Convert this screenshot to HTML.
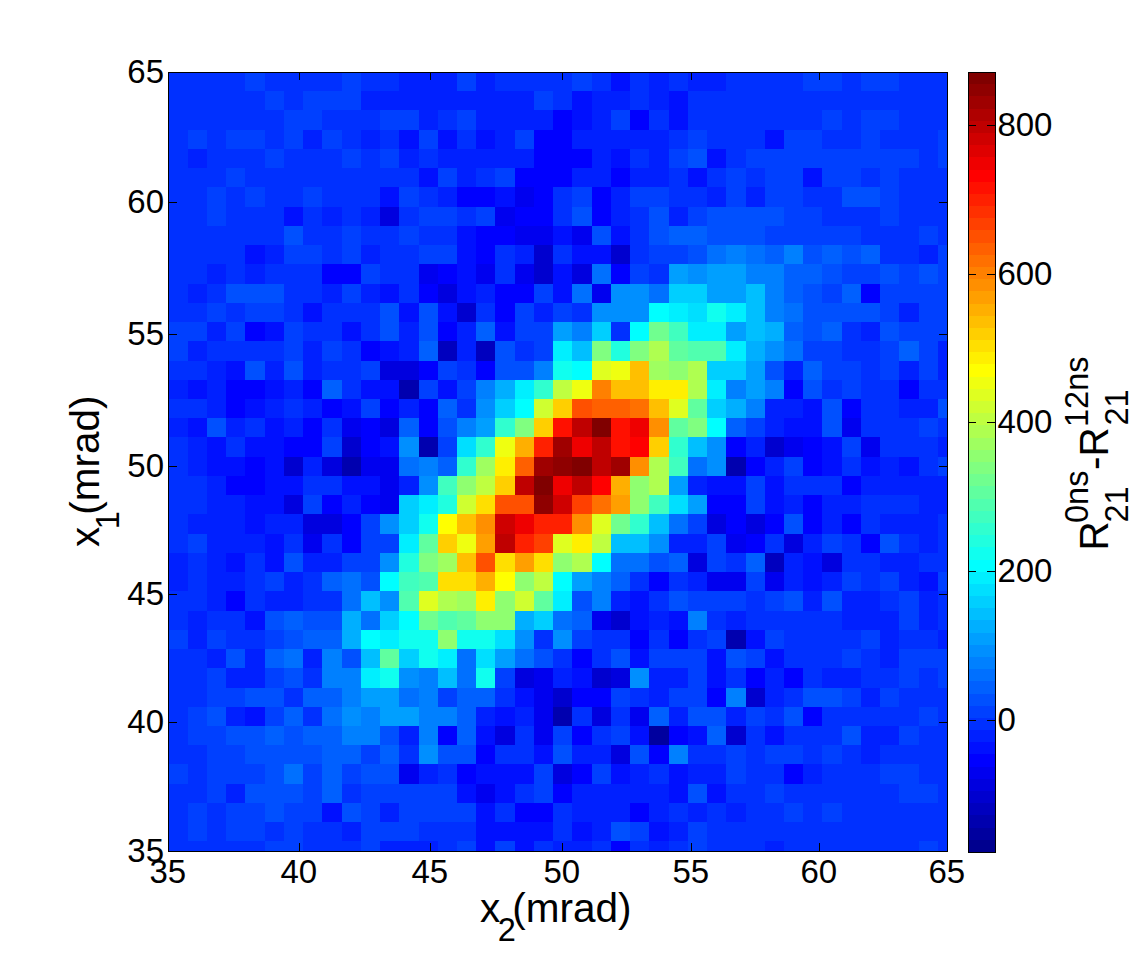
<!DOCTYPE html>
<html><head><meta charset="utf-8">
<style>
html,body{margin:0;padding:0;background:#fff;width:1145px;height:956px;overflow:hidden}
svg{position:absolute;left:0;top:0}
text{font-family:"Liberation Sans",sans-serif;fill:#000}
</style></head><body>
<svg width="1145" height="956" viewBox="0 0 1145 956">
<g shape-rendering="crispEdges">
<rect x="169" y="73" width="76" height="18" fill="#0030ff"/>
<rect x="245" y="73" width="20" height="18" fill="#0040ff"/>
<rect x="265" y="73" width="77" height="18" fill="#0030ff"/>
<rect x="342" y="73" width="19" height="18" fill="#0040ff"/>
<rect x="361" y="73" width="38" height="18" fill="#0030ff"/>
<rect x="399" y="73" width="58" height="18" fill="#0020ff"/>
<rect x="457" y="73" width="19" height="18" fill="#0040ff"/>
<rect x="476" y="73" width="19" height="18" fill="#0020ff"/>
<rect x="495" y="73" width="77" height="18" fill="#0030ff"/>
<rect x="572" y="73" width="20" height="18" fill="#0040ff"/>
<rect x="592" y="73" width="19" height="18" fill="#0030ff"/>
<rect x="611" y="73" width="19" height="18" fill="#0010ff"/>
<rect x="630" y="73" width="19" height="18" fill="#0030ff"/>
<rect x="649" y="73" width="20" height="18" fill="#0020ff"/>
<rect x="669" y="73" width="19" height="18" fill="#0030ff"/>
<rect x="688" y="73" width="38" height="18" fill="#0020ff"/>
<rect x="726" y="73" width="77" height="18" fill="#0030ff"/>
<rect x="803" y="73" width="39" height="18" fill="#0040ff"/>
<rect x="842" y="73" width="19" height="18" fill="#0030ff"/>
<rect x="861" y="73" width="38" height="18" fill="#0040ff"/>
<rect x="899" y="73" width="48" height="18" fill="#0030ff"/>
<rect x="169" y="91" width="96" height="19" fill="#0030ff"/>
<rect x="265" y="91" width="19" height="19" fill="#0040ff"/>
<rect x="284" y="91" width="19" height="19" fill="#0030ff"/>
<rect x="303" y="91" width="58" height="19" fill="#0040ff"/>
<rect x="361" y="91" width="173" height="19" fill="#0020ff"/>
<rect x="534" y="91" width="19" height="19" fill="#0040ff"/>
<rect x="553" y="91" width="19" height="19" fill="#0030ff"/>
<rect x="572" y="91" width="20" height="19" fill="#0010ff"/>
<rect x="592" y="91" width="38" height="19" fill="#0020ff"/>
<rect x="630" y="91" width="19" height="19" fill="#0030ff"/>
<rect x="649" y="91" width="20" height="19" fill="#0020ff"/>
<rect x="669" y="91" width="19" height="19" fill="#0010ff"/>
<rect x="688" y="91" width="259" height="19" fill="#0030ff"/>
<rect x="169" y="110" width="115" height="20" fill="#0030ff"/>
<rect x="284" y="110" width="38" height="20" fill="#0040ff"/>
<rect x="322" y="110" width="58" height="20" fill="#0030ff"/>
<rect x="380" y="110" width="39" height="20" fill="#0040ff"/>
<rect x="419" y="110" width="19" height="20" fill="#0020ff"/>
<rect x="438" y="110" width="19" height="20" fill="#0030ff"/>
<rect x="457" y="110" width="19" height="20" fill="#0040ff"/>
<rect x="476" y="110" width="77" height="20" fill="#0020ff"/>
<rect x="553" y="110" width="19" height="20" fill="#0000ff"/>
<rect x="572" y="110" width="20" height="20" fill="#0010ff"/>
<rect x="592" y="110" width="19" height="20" fill="#0020ff"/>
<rect x="611" y="110" width="19" height="20" fill="#0040ff"/>
<rect x="630" y="110" width="19" height="20" fill="#0000ff"/>
<rect x="649" y="110" width="20" height="20" fill="#0030ff"/>
<rect x="669" y="110" width="19" height="20" fill="#0010ff"/>
<rect x="688" y="110" width="134" height="20" fill="#0030ff"/>
<rect x="822" y="110" width="20" height="20" fill="#0040ff"/>
<rect x="842" y="110" width="19" height="20" fill="#0030ff"/>
<rect x="861" y="110" width="38" height="20" fill="#0040ff"/>
<rect x="899" y="110" width="48" height="20" fill="#0030ff"/>
<rect x="169" y="130" width="19" height="19" fill="#0030ff"/>
<rect x="188" y="130" width="19" height="19" fill="#0040ff"/>
<rect x="207" y="130" width="19" height="19" fill="#0030ff"/>
<rect x="226" y="130" width="39" height="19" fill="#0040ff"/>
<rect x="265" y="130" width="19" height="19" fill="#0030ff"/>
<rect x="284" y="130" width="19" height="19" fill="#0040ff"/>
<rect x="303" y="130" width="19" height="19" fill="#0020ff"/>
<rect x="322" y="130" width="20" height="19" fill="#0040ff"/>
<rect x="342" y="130" width="19" height="19" fill="#0030ff"/>
<rect x="361" y="130" width="19" height="19" fill="#0020ff"/>
<rect x="380" y="130" width="19" height="19" fill="#0030ff"/>
<rect x="399" y="130" width="20" height="19" fill="#0010ff"/>
<rect x="419" y="130" width="19" height="19" fill="#0040ff"/>
<rect x="438" y="130" width="19" height="19" fill="#0010ff"/>
<rect x="457" y="130" width="19" height="19" fill="#0030ff"/>
<rect x="476" y="130" width="19" height="19" fill="#0010ff"/>
<rect x="495" y="130" width="20" height="19" fill="#0020ff"/>
<rect x="515" y="130" width="19" height="19" fill="#0040ff"/>
<rect x="534" y="130" width="38" height="19" fill="#0000ff"/>
<rect x="572" y="130" width="97" height="19" fill="#0020ff"/>
<rect x="669" y="130" width="19" height="19" fill="#0030ff"/>
<rect x="688" y="130" width="19" height="19" fill="#0040ff"/>
<rect x="707" y="130" width="58" height="19" fill="#0030ff"/>
<rect x="765" y="130" width="19" height="19" fill="#0010ff"/>
<rect x="784" y="130" width="38" height="19" fill="#0040ff"/>
<rect x="822" y="130" width="39" height="19" fill="#0030ff"/>
<rect x="861" y="130" width="19" height="19" fill="#0040ff"/>
<rect x="880" y="130" width="58" height="19" fill="#0030ff"/>
<rect x="938" y="130" width="9" height="19" fill="#0040ff"/>
<rect x="169" y="149" width="19" height="19" fill="#0030ff"/>
<rect x="188" y="149" width="19" height="19" fill="#0020ff"/>
<rect x="207" y="149" width="58" height="19" fill="#0030ff"/>
<rect x="265" y="149" width="19" height="19" fill="#0040ff"/>
<rect x="284" y="149" width="58" height="19" fill="#0030ff"/>
<rect x="342" y="149" width="19" height="19" fill="#0040ff"/>
<rect x="361" y="149" width="19" height="19" fill="#0030ff"/>
<rect x="380" y="149" width="19" height="19" fill="#0040ff"/>
<rect x="399" y="149" width="20" height="19" fill="#0020ff"/>
<rect x="419" y="149" width="19" height="19" fill="#0030ff"/>
<rect x="438" y="149" width="96" height="19" fill="#0020ff"/>
<rect x="534" y="149" width="58" height="19" fill="#0000ff"/>
<rect x="592" y="149" width="19" height="19" fill="#0020ff"/>
<rect x="611" y="149" width="19" height="19" fill="#0010ff"/>
<rect x="630" y="149" width="19" height="19" fill="#0030ff"/>
<rect x="649" y="149" width="20" height="19" fill="#0020ff"/>
<rect x="669" y="149" width="19" height="19" fill="#0040ff"/>
<rect x="688" y="149" width="19" height="19" fill="#0050ff"/>
<rect x="707" y="149" width="19" height="19" fill="#0010ff"/>
<rect x="726" y="149" width="20" height="19" fill="#0030ff"/>
<rect x="746" y="149" width="173" height="19" fill="#0040ff"/>
<rect x="919" y="149" width="19" height="19" fill="#0030ff"/>
<rect x="938" y="149" width="9" height="19" fill="#0040ff"/>
<rect x="169" y="168" width="57" height="19" fill="#0030ff"/>
<rect x="226" y="168" width="19" height="19" fill="#0040ff"/>
<rect x="245" y="168" width="174" height="19" fill="#0030ff"/>
<rect x="419" y="168" width="19" height="19" fill="#0010ff"/>
<rect x="438" y="168" width="19" height="19" fill="#0040ff"/>
<rect x="457" y="168" width="19" height="19" fill="#0020ff"/>
<rect x="476" y="168" width="19" height="19" fill="#0030ff"/>
<rect x="495" y="168" width="20" height="19" fill="#0040ff"/>
<rect x="515" y="168" width="57" height="19" fill="#0000ff"/>
<rect x="572" y="168" width="39" height="19" fill="#0020ff"/>
<rect x="611" y="168" width="19" height="19" fill="#0000ff"/>
<rect x="630" y="168" width="39" height="19" fill="#0020ff"/>
<rect x="669" y="168" width="19" height="19" fill="#0030ff"/>
<rect x="688" y="168" width="19" height="19" fill="#0010ff"/>
<rect x="707" y="168" width="19" height="19" fill="#0030ff"/>
<rect x="726" y="168" width="20" height="19" fill="#0040ff"/>
<rect x="746" y="168" width="19" height="19" fill="#0030ff"/>
<rect x="765" y="168" width="38" height="19" fill="#0040ff"/>
<rect x="803" y="168" width="19" height="19" fill="#0010ff"/>
<rect x="822" y="168" width="39" height="19" fill="#0040ff"/>
<rect x="861" y="168" width="19" height="19" fill="#0030ff"/>
<rect x="880" y="168" width="19" height="19" fill="#0040ff"/>
<rect x="899" y="168" width="48" height="19" fill="#0030ff"/>
<rect x="169" y="187" width="38" height="20" fill="#0030ff"/>
<rect x="207" y="187" width="19" height="20" fill="#0040ff"/>
<rect x="226" y="187" width="19" height="20" fill="#0030ff"/>
<rect x="245" y="187" width="20" height="20" fill="#0040ff"/>
<rect x="265" y="187" width="38" height="20" fill="#0030ff"/>
<rect x="303" y="187" width="19" height="20" fill="#0040ff"/>
<rect x="322" y="187" width="58" height="20" fill="#0030ff"/>
<rect x="380" y="187" width="19" height="20" fill="#0010ff"/>
<rect x="399" y="187" width="20" height="20" fill="#0040ff"/>
<rect x="419" y="187" width="19" height="20" fill="#0030ff"/>
<rect x="438" y="187" width="19" height="20" fill="#0020ff"/>
<rect x="457" y="187" width="38" height="20" fill="#0000ff"/>
<rect x="495" y="187" width="20" height="20" fill="#0010ff"/>
<rect x="515" y="187" width="19" height="20" fill="#0000ef"/>
<rect x="534" y="187" width="19" height="20" fill="#0000ff"/>
<rect x="553" y="187" width="19" height="20" fill="#0030ff"/>
<rect x="572" y="187" width="20" height="20" fill="#0040ff"/>
<rect x="592" y="187" width="19" height="20" fill="#0000ff"/>
<rect x="611" y="187" width="19" height="20" fill="#0020ff"/>
<rect x="630" y="187" width="39" height="20" fill="#0040ff"/>
<rect x="669" y="187" width="38" height="20" fill="#0030ff"/>
<rect x="707" y="187" width="19" height="20" fill="#0020ff"/>
<rect x="726" y="187" width="20" height="20" fill="#0040ff"/>
<rect x="746" y="187" width="19" height="20" fill="#0020ff"/>
<rect x="765" y="187" width="38" height="20" fill="#0040ff"/>
<rect x="803" y="187" width="39" height="20" fill="#0030ff"/>
<rect x="842" y="187" width="38" height="20" fill="#0050ff"/>
<rect x="880" y="187" width="19" height="20" fill="#0040ff"/>
<rect x="899" y="187" width="48" height="20" fill="#0030ff"/>
<rect x="169" y="207" width="38" height="19" fill="#0030ff"/>
<rect x="207" y="207" width="19" height="19" fill="#0040ff"/>
<rect x="226" y="207" width="58" height="19" fill="#0030ff"/>
<rect x="284" y="207" width="19" height="19" fill="#0010ff"/>
<rect x="303" y="207" width="19" height="19" fill="#0030ff"/>
<rect x="322" y="207" width="20" height="19" fill="#0020ff"/>
<rect x="342" y="207" width="19" height="19" fill="#0030ff"/>
<rect x="361" y="207" width="19" height="19" fill="#0020ff"/>
<rect x="380" y="207" width="19" height="19" fill="#0000df"/>
<rect x="399" y="207" width="20" height="19" fill="#0030ff"/>
<rect x="419" y="207" width="38" height="19" fill="#0040ff"/>
<rect x="457" y="207" width="19" height="19" fill="#0030ff"/>
<rect x="476" y="207" width="19" height="19" fill="#0040ff"/>
<rect x="495" y="207" width="20" height="19" fill="#0000ef"/>
<rect x="515" y="207" width="38" height="19" fill="#0000ff"/>
<rect x="553" y="207" width="19" height="19" fill="#0030ff"/>
<rect x="572" y="207" width="20" height="19" fill="#0050ff"/>
<rect x="592" y="207" width="19" height="19" fill="#0000ff"/>
<rect x="611" y="207" width="19" height="19" fill="#0020ff"/>
<rect x="630" y="207" width="19" height="19" fill="#0030ff"/>
<rect x="649" y="207" width="20" height="19" fill="#0050ff"/>
<rect x="669" y="207" width="19" height="19" fill="#0020ff"/>
<rect x="688" y="207" width="19" height="19" fill="#0040ff"/>
<rect x="707" y="207" width="77" height="19" fill="#0050ff"/>
<rect x="784" y="207" width="38" height="19" fill="#0040ff"/>
<rect x="822" y="207" width="58" height="19" fill="#0030ff"/>
<rect x="880" y="207" width="19" height="19" fill="#0040ff"/>
<rect x="899" y="207" width="48" height="19" fill="#0030ff"/>
<rect x="169" y="226" width="115" height="19" fill="#0030ff"/>
<rect x="284" y="226" width="19" height="19" fill="#0050ff"/>
<rect x="303" y="226" width="39" height="19" fill="#0030ff"/>
<rect x="342" y="226" width="19" height="19" fill="#0040ff"/>
<rect x="361" y="226" width="38" height="19" fill="#0030ff"/>
<rect x="399" y="226" width="20" height="19" fill="#0040ff"/>
<rect x="419" y="226" width="38" height="19" fill="#0030ff"/>
<rect x="457" y="226" width="19" height="19" fill="#0010ff"/>
<rect x="476" y="226" width="39" height="19" fill="#0000ff"/>
<rect x="515" y="226" width="38" height="19" fill="#0000ef"/>
<rect x="553" y="226" width="19" height="19" fill="#0010ff"/>
<rect x="572" y="226" width="20" height="19" fill="#0000ef"/>
<rect x="592" y="226" width="19" height="19" fill="#0050ff"/>
<rect x="611" y="226" width="19" height="19" fill="#0010ff"/>
<rect x="630" y="226" width="19" height="19" fill="#0030ff"/>
<rect x="649" y="226" width="20" height="19" fill="#0050ff"/>
<rect x="669" y="226" width="38" height="19" fill="#0060ff"/>
<rect x="707" y="226" width="58" height="19" fill="#0050ff"/>
<rect x="765" y="226" width="96" height="19" fill="#0040ff"/>
<rect x="861" y="226" width="58" height="19" fill="#0030ff"/>
<rect x="919" y="226" width="19" height="19" fill="#0040ff"/>
<rect x="938" y="226" width="9" height="19" fill="#0030ff"/>
<rect x="169" y="245" width="76" height="19" fill="#0030ff"/>
<rect x="245" y="245" width="20" height="19" fill="#0010ff"/>
<rect x="265" y="245" width="19" height="19" fill="#0020ff"/>
<rect x="284" y="245" width="38" height="19" fill="#0040ff"/>
<rect x="322" y="245" width="20" height="19" fill="#0030ff"/>
<rect x="342" y="245" width="19" height="19" fill="#0040ff"/>
<rect x="361" y="245" width="19" height="19" fill="#0020ff"/>
<rect x="380" y="245" width="39" height="19" fill="#0030ff"/>
<rect x="419" y="245" width="38" height="19" fill="#0040ff"/>
<rect x="457" y="245" width="19" height="19" fill="#0010ff"/>
<rect x="476" y="245" width="19" height="19" fill="#0000ff"/>
<rect x="495" y="245" width="20" height="19" fill="#0030ff"/>
<rect x="515" y="245" width="19" height="19" fill="#0020ff"/>
<rect x="534" y="245" width="19" height="19" fill="#0000cf"/>
<rect x="553" y="245" width="19" height="19" fill="#0030ff"/>
<rect x="572" y="245" width="39" height="19" fill="#0010ff"/>
<rect x="611" y="245" width="19" height="19" fill="#0000cf"/>
<rect x="630" y="245" width="19" height="19" fill="#0030ff"/>
<rect x="649" y="245" width="39" height="19" fill="#0040ff"/>
<rect x="688" y="245" width="19" height="19" fill="#0050ff"/>
<rect x="707" y="245" width="19" height="19" fill="#0070ff"/>
<rect x="726" y="245" width="20" height="19" fill="#0080ff"/>
<rect x="746" y="245" width="19" height="19" fill="#0070ff"/>
<rect x="765" y="245" width="19" height="19" fill="#0060ff"/>
<rect x="784" y="245" width="19" height="19" fill="#0080ff"/>
<rect x="803" y="245" width="19" height="19" fill="#0050ff"/>
<rect x="822" y="245" width="20" height="19" fill="#0060ff"/>
<rect x="842" y="245" width="19" height="19" fill="#0050ff"/>
<rect x="861" y="245" width="19" height="19" fill="#0060ff"/>
<rect x="880" y="245" width="39" height="19" fill="#0030ff"/>
<rect x="919" y="245" width="19" height="19" fill="#0020ff"/>
<rect x="938" y="245" width="9" height="19" fill="#0040ff"/>
<rect x="169" y="264" width="38" height="20" fill="#0030ff"/>
<rect x="207" y="264" width="19" height="20" fill="#0020ff"/>
<rect x="226" y="264" width="19" height="20" fill="#0030ff"/>
<rect x="245" y="264" width="20" height="20" fill="#0020ff"/>
<rect x="265" y="264" width="57" height="20" fill="#0030ff"/>
<rect x="322" y="264" width="39" height="20" fill="#0000ff"/>
<rect x="361" y="264" width="19" height="20" fill="#0040ff"/>
<rect x="380" y="264" width="39" height="20" fill="#0030ff"/>
<rect x="419" y="264" width="19" height="20" fill="#0000ef"/>
<rect x="438" y="264" width="19" height="20" fill="#0000ff"/>
<rect x="457" y="264" width="19" height="20" fill="#0010ff"/>
<rect x="476" y="264" width="19" height="20" fill="#0000ef"/>
<rect x="495" y="264" width="20" height="20" fill="#0030ff"/>
<rect x="515" y="264" width="19" height="20" fill="#0000ef"/>
<rect x="534" y="264" width="19" height="20" fill="#0000cf"/>
<rect x="553" y="264" width="19" height="20" fill="#0010ff"/>
<rect x="572" y="264" width="20" height="20" fill="#0000df"/>
<rect x="592" y="264" width="19" height="20" fill="#0070ff"/>
<rect x="611" y="264" width="19" height="20" fill="#0000ff"/>
<rect x="630" y="264" width="19" height="20" fill="#0040ff"/>
<rect x="649" y="264" width="20" height="20" fill="#0030ff"/>
<rect x="669" y="264" width="19" height="20" fill="#009fff"/>
<rect x="688" y="264" width="19" height="20" fill="#008fff"/>
<rect x="707" y="264" width="39" height="20" fill="#009fff"/>
<rect x="746" y="264" width="38" height="20" fill="#0080ff"/>
<rect x="784" y="264" width="38" height="20" fill="#0060ff"/>
<rect x="822" y="264" width="20" height="20" fill="#0050ff"/>
<rect x="842" y="264" width="38" height="20" fill="#0040ff"/>
<rect x="880" y="264" width="19" height="20" fill="#0050ff"/>
<rect x="899" y="264" width="20" height="20" fill="#0040ff"/>
<rect x="919" y="264" width="19" height="20" fill="#0050ff"/>
<rect x="938" y="264" width="9" height="20" fill="#0040ff"/>
<rect x="169" y="284" width="19" height="19" fill="#0030ff"/>
<rect x="188" y="284" width="19" height="19" fill="#0020ff"/>
<rect x="207" y="284" width="19" height="19" fill="#0030ff"/>
<rect x="226" y="284" width="58" height="19" fill="#0050ff"/>
<rect x="284" y="284" width="38" height="19" fill="#0030ff"/>
<rect x="322" y="284" width="20" height="19" fill="#0020ff"/>
<rect x="342" y="284" width="19" height="19" fill="#0040ff"/>
<rect x="361" y="284" width="19" height="19" fill="#0020ff"/>
<rect x="380" y="284" width="19" height="19" fill="#0010ff"/>
<rect x="399" y="284" width="20" height="19" fill="#0030ff"/>
<rect x="419" y="284" width="19" height="19" fill="#0000ff"/>
<rect x="438" y="284" width="19" height="19" fill="#0000df"/>
<rect x="457" y="284" width="19" height="19" fill="#0010ff"/>
<rect x="476" y="284" width="19" height="19" fill="#0020ff"/>
<rect x="495" y="284" width="39" height="19" fill="#0000ff"/>
<rect x="534" y="284" width="19" height="19" fill="#0040ff"/>
<rect x="553" y="284" width="19" height="19" fill="#0010ff"/>
<rect x="572" y="284" width="20" height="19" fill="#0070ff"/>
<rect x="592" y="284" width="19" height="19" fill="#0000ef"/>
<rect x="611" y="284" width="38" height="19" fill="#008fff"/>
<rect x="649" y="284" width="20" height="19" fill="#0070ff"/>
<rect x="669" y="284" width="38" height="19" fill="#00cfff"/>
<rect x="707" y="284" width="39" height="19" fill="#009fff"/>
<rect x="746" y="284" width="19" height="19" fill="#00bfff"/>
<rect x="765" y="284" width="19" height="19" fill="#0080ff"/>
<rect x="784" y="284" width="19" height="19" fill="#0060ff"/>
<rect x="803" y="284" width="19" height="19" fill="#0050ff"/>
<rect x="822" y="284" width="20" height="19" fill="#0040ff"/>
<rect x="842" y="284" width="19" height="19" fill="#0060ff"/>
<rect x="861" y="284" width="19" height="19" fill="#0000ff"/>
<rect x="880" y="284" width="67" height="19" fill="#0040ff"/>
<rect x="169" y="303" width="38" height="19" fill="#0030ff"/>
<rect x="207" y="303" width="19" height="19" fill="#0040ff"/>
<rect x="226" y="303" width="19" height="19" fill="#0030ff"/>
<rect x="245" y="303" width="39" height="19" fill="#0040ff"/>
<rect x="284" y="303" width="19" height="19" fill="#0030ff"/>
<rect x="303" y="303" width="19" height="19" fill="#0010ff"/>
<rect x="322" y="303" width="58" height="19" fill="#0030ff"/>
<rect x="380" y="303" width="19" height="19" fill="#0050ff"/>
<rect x="399" y="303" width="20" height="19" fill="#0010ff"/>
<rect x="419" y="303" width="19" height="19" fill="#0050ff"/>
<rect x="438" y="303" width="19" height="19" fill="#0010ff"/>
<rect x="457" y="303" width="19" height="19" fill="#0000cf"/>
<rect x="476" y="303" width="19" height="19" fill="#0030ff"/>
<rect x="495" y="303" width="20" height="19" fill="#0000ff"/>
<rect x="515" y="303" width="19" height="19" fill="#0040ff"/>
<rect x="534" y="303" width="19" height="19" fill="#0020ff"/>
<rect x="553" y="303" width="19" height="19" fill="#0040ff"/>
<rect x="572" y="303" width="20" height="19" fill="#0030ff"/>
<rect x="592" y="303" width="57" height="19" fill="#008fff"/>
<rect x="649" y="303" width="20" height="19" fill="#00ffff"/>
<rect x="669" y="303" width="19" height="19" fill="#00efff"/>
<rect x="688" y="303" width="19" height="19" fill="#00dfff"/>
<rect x="707" y="303" width="19" height="19" fill="#10ffef"/>
<rect x="726" y="303" width="20" height="19" fill="#00efff"/>
<rect x="746" y="303" width="19" height="19" fill="#00bfff"/>
<rect x="765" y="303" width="19" height="19" fill="#0080ff"/>
<rect x="784" y="303" width="19" height="19" fill="#0070ff"/>
<rect x="803" y="303" width="77" height="19" fill="#0050ff"/>
<rect x="880" y="303" width="19" height="19" fill="#0040ff"/>
<rect x="899" y="303" width="20" height="19" fill="#0020ff"/>
<rect x="919" y="303" width="28" height="19" fill="#0040ff"/>
<rect x="169" y="322" width="38" height="19" fill="#0040ff"/>
<rect x="207" y="322" width="19" height="19" fill="#0020ff"/>
<rect x="226" y="322" width="19" height="19" fill="#0040ff"/>
<rect x="245" y="322" width="20" height="19" fill="#0000ff"/>
<rect x="265" y="322" width="19" height="19" fill="#0010ff"/>
<rect x="284" y="322" width="19" height="19" fill="#0040ff"/>
<rect x="303" y="322" width="39" height="19" fill="#0030ff"/>
<rect x="342" y="322" width="19" height="19" fill="#0010ff"/>
<rect x="361" y="322" width="19" height="19" fill="#0030ff"/>
<rect x="380" y="322" width="19" height="19" fill="#0050ff"/>
<rect x="399" y="322" width="20" height="19" fill="#0020ff"/>
<rect x="419" y="322" width="19" height="19" fill="#0050ff"/>
<rect x="438" y="322" width="19" height="19" fill="#0000ff"/>
<rect x="457" y="322" width="19" height="19" fill="#0020ff"/>
<rect x="476" y="322" width="19" height="19" fill="#0060ff"/>
<rect x="495" y="322" width="20" height="19" fill="#0010ff"/>
<rect x="515" y="322" width="38" height="19" fill="#0040ff"/>
<rect x="553" y="322" width="19" height="19" fill="#009fff"/>
<rect x="572" y="322" width="20" height="19" fill="#0080ff"/>
<rect x="592" y="322" width="19" height="19" fill="#00cfff"/>
<rect x="611" y="322" width="19" height="19" fill="#0030ff"/>
<rect x="630" y="322" width="19" height="19" fill="#00ffff"/>
<rect x="649" y="322" width="20" height="19" fill="#70ff8f"/>
<rect x="669" y="322" width="19" height="19" fill="#40ffbf"/>
<rect x="688" y="322" width="38" height="19" fill="#00efff"/>
<rect x="726" y="322" width="20" height="19" fill="#009fff"/>
<rect x="746" y="322" width="19" height="19" fill="#00bfff"/>
<rect x="765" y="322" width="19" height="19" fill="#00afff"/>
<rect x="784" y="322" width="19" height="19" fill="#0060ff"/>
<rect x="803" y="322" width="19" height="19" fill="#0050ff"/>
<rect x="822" y="322" width="20" height="19" fill="#0060ff"/>
<rect x="842" y="322" width="19" height="19" fill="#0030ff"/>
<rect x="861" y="322" width="19" height="19" fill="#0020ff"/>
<rect x="880" y="322" width="19" height="19" fill="#0050ff"/>
<rect x="899" y="322" width="48" height="19" fill="#0040ff"/>
<rect x="169" y="341" width="19" height="20" fill="#0040ff"/>
<rect x="188" y="341" width="19" height="20" fill="#0020ff"/>
<rect x="207" y="341" width="77" height="20" fill="#0030ff"/>
<rect x="284" y="341" width="19" height="20" fill="#0040ff"/>
<rect x="303" y="341" width="19" height="20" fill="#0020ff"/>
<rect x="322" y="341" width="20" height="20" fill="#0040ff"/>
<rect x="342" y="341" width="19" height="20" fill="#0030ff"/>
<rect x="361" y="341" width="19" height="20" fill="#0000ff"/>
<rect x="380" y="341" width="19" height="20" fill="#0010ff"/>
<rect x="399" y="341" width="20" height="20" fill="#0020ff"/>
<rect x="419" y="341" width="19" height="20" fill="#0060ff"/>
<rect x="438" y="341" width="19" height="20" fill="#0000bf"/>
<rect x="457" y="341" width="19" height="20" fill="#0020ff"/>
<rect x="476" y="341" width="19" height="20" fill="#0000bf"/>
<rect x="495" y="341" width="20" height="20" fill="#0050ff"/>
<rect x="515" y="341" width="19" height="20" fill="#0030ff"/>
<rect x="534" y="341" width="19" height="20" fill="#0040ff"/>
<rect x="553" y="341" width="19" height="20" fill="#00efff"/>
<rect x="572" y="341" width="20" height="20" fill="#00bfff"/>
<rect x="592" y="341" width="19" height="20" fill="#80ff80"/>
<rect x="611" y="341" width="19" height="20" fill="#20ffdf"/>
<rect x="630" y="341" width="19" height="20" fill="#80ff80"/>
<rect x="649" y="341" width="20" height="20" fill="#afff50"/>
<rect x="669" y="341" width="19" height="20" fill="#60ff9f"/>
<rect x="688" y="341" width="38" height="20" fill="#50ffaf"/>
<rect x="726" y="341" width="20" height="20" fill="#00efff"/>
<rect x="746" y="341" width="19" height="20" fill="#00afff"/>
<rect x="765" y="341" width="19" height="20" fill="#008fff"/>
<rect x="784" y="341" width="19" height="20" fill="#0070ff"/>
<rect x="803" y="341" width="39" height="20" fill="#0040ff"/>
<rect x="842" y="341" width="38" height="20" fill="#0030ff"/>
<rect x="880" y="341" width="19" height="20" fill="#0040ff"/>
<rect x="899" y="341" width="20" height="20" fill="#0060ff"/>
<rect x="919" y="341" width="19" height="20" fill="#0040ff"/>
<rect x="938" y="341" width="9" height="20" fill="#0020ff"/>
<rect x="169" y="361" width="38" height="19" fill="#0030ff"/>
<rect x="207" y="361" width="19" height="19" fill="#0020ff"/>
<rect x="226" y="361" width="19" height="19" fill="#0010ff"/>
<rect x="245" y="361" width="20" height="19" fill="#0050ff"/>
<rect x="265" y="361" width="19" height="19" fill="#0020ff"/>
<rect x="284" y="361" width="19" height="19" fill="#0050ff"/>
<rect x="303" y="361" width="19" height="19" fill="#0020ff"/>
<rect x="322" y="361" width="39" height="19" fill="#0030ff"/>
<rect x="361" y="361" width="19" height="19" fill="#0040ff"/>
<rect x="380" y="361" width="39" height="19" fill="#0000df"/>
<rect x="419" y="361" width="19" height="19" fill="#0000ff"/>
<rect x="438" y="361" width="19" height="19" fill="#0040ff"/>
<rect x="457" y="361" width="19" height="19" fill="#0030ff"/>
<rect x="476" y="361" width="19" height="19" fill="#0000ff"/>
<rect x="495" y="361" width="39" height="19" fill="#0050ff"/>
<rect x="534" y="361" width="19" height="19" fill="#0080ff"/>
<rect x="553" y="361" width="19" height="19" fill="#10ffef"/>
<rect x="572" y="361" width="20" height="19" fill="#00ffff"/>
<rect x="592" y="361" width="19" height="19" fill="#dfff20"/>
<rect x="611" y="361" width="19" height="19" fill="#efff10"/>
<rect x="630" y="361" width="19" height="19" fill="#ffbf00"/>
<rect x="649" y="361" width="20" height="19" fill="#9fff60"/>
<rect x="669" y="361" width="19" height="19" fill="#8fff70"/>
<rect x="688" y="361" width="19" height="19" fill="#afff50"/>
<rect x="707" y="361" width="39" height="19" fill="#00cfff"/>
<rect x="746" y="361" width="19" height="19" fill="#009fff"/>
<rect x="765" y="361" width="19" height="19" fill="#0050ff"/>
<rect x="784" y="361" width="19" height="19" fill="#0020ff"/>
<rect x="803" y="361" width="19" height="19" fill="#0060ff"/>
<rect x="822" y="361" width="39" height="19" fill="#0040ff"/>
<rect x="861" y="361" width="19" height="19" fill="#0030ff"/>
<rect x="880" y="361" width="19" height="19" fill="#0040ff"/>
<rect x="899" y="361" width="20" height="19" fill="#0020ff"/>
<rect x="919" y="361" width="19" height="19" fill="#0040ff"/>
<rect x="938" y="361" width="9" height="19" fill="#0020ff"/>
<rect x="169" y="380" width="19" height="19" fill="#0020ff"/>
<rect x="188" y="380" width="19" height="19" fill="#0010ff"/>
<rect x="207" y="380" width="19" height="19" fill="#0020ff"/>
<rect x="226" y="380" width="39" height="19" fill="#0000ff"/>
<rect x="265" y="380" width="19" height="19" fill="#0010ff"/>
<rect x="284" y="380" width="19" height="19" fill="#0020ff"/>
<rect x="303" y="380" width="19" height="19" fill="#0000ff"/>
<rect x="322" y="380" width="20" height="19" fill="#0060ff"/>
<rect x="342" y="380" width="19" height="19" fill="#0030ff"/>
<rect x="361" y="380" width="38" height="19" fill="#0010ff"/>
<rect x="399" y="380" width="20" height="19" fill="#0000af"/>
<rect x="419" y="380" width="19" height="19" fill="#0040ff"/>
<rect x="438" y="380" width="19" height="19" fill="#0010ff"/>
<rect x="457" y="380" width="19" height="19" fill="#0040ff"/>
<rect x="476" y="380" width="19" height="19" fill="#0080ff"/>
<rect x="495" y="380" width="20" height="19" fill="#00afff"/>
<rect x="515" y="380" width="19" height="19" fill="#00efff"/>
<rect x="534" y="380" width="19" height="19" fill="#30ffcf"/>
<rect x="553" y="380" width="19" height="19" fill="#bfff40"/>
<rect x="572" y="380" width="20" height="19" fill="#efff10"/>
<rect x="592" y="380" width="19" height="19" fill="#ff8000"/>
<rect x="611" y="380" width="38" height="19" fill="#ffbf00"/>
<rect x="649" y="380" width="39" height="19" fill="#ffef00"/>
<rect x="688" y="380" width="19" height="19" fill="#afff50"/>
<rect x="707" y="380" width="19" height="19" fill="#00efff"/>
<rect x="726" y="380" width="20" height="19" fill="#0080ff"/>
<rect x="746" y="380" width="19" height="19" fill="#009fff"/>
<rect x="765" y="380" width="19" height="19" fill="#0080ff"/>
<rect x="784" y="380" width="19" height="19" fill="#0000ff"/>
<rect x="803" y="380" width="19" height="19" fill="#0050ff"/>
<rect x="822" y="380" width="20" height="19" fill="#0030ff"/>
<rect x="842" y="380" width="19" height="19" fill="#0040ff"/>
<rect x="861" y="380" width="38" height="19" fill="#0030ff"/>
<rect x="899" y="380" width="20" height="19" fill="#0000ff"/>
<rect x="919" y="380" width="28" height="19" fill="#0030ff"/>
<rect x="169" y="399" width="38" height="19" fill="#0030ff"/>
<rect x="207" y="399" width="19" height="19" fill="#0020ff"/>
<rect x="226" y="399" width="19" height="19" fill="#0000ff"/>
<rect x="245" y="399" width="20" height="19" fill="#0010ff"/>
<rect x="265" y="399" width="19" height="19" fill="#0020ff"/>
<rect x="284" y="399" width="19" height="19" fill="#0030ff"/>
<rect x="303" y="399" width="19" height="19" fill="#0020ff"/>
<rect x="322" y="399" width="20" height="19" fill="#0000ff"/>
<rect x="342" y="399" width="19" height="19" fill="#0010ff"/>
<rect x="361" y="399" width="19" height="19" fill="#0040ff"/>
<rect x="380" y="399" width="19" height="19" fill="#0000ff"/>
<rect x="399" y="399" width="20" height="19" fill="#0020ff"/>
<rect x="419" y="399" width="19" height="19" fill="#0000ff"/>
<rect x="438" y="399" width="19" height="19" fill="#0060ff"/>
<rect x="457" y="399" width="19" height="19" fill="#0030ff"/>
<rect x="476" y="399" width="19" height="19" fill="#008fff"/>
<rect x="495" y="399" width="20" height="19" fill="#00cfff"/>
<rect x="515" y="399" width="19" height="19" fill="#00ffff"/>
<rect x="534" y="399" width="19" height="19" fill="#cfff30"/>
<rect x="553" y="399" width="19" height="19" fill="#ffcf00"/>
<rect x="572" y="399" width="20" height="19" fill="#ff5000"/>
<rect x="592" y="399" width="38" height="19" fill="#ff6000"/>
<rect x="630" y="399" width="19" height="19" fill="#ff7000"/>
<rect x="649" y="399" width="20" height="19" fill="#ffbf00"/>
<rect x="669" y="399" width="19" height="19" fill="#dfff20"/>
<rect x="688" y="399" width="19" height="19" fill="#60ff9f"/>
<rect x="707" y="399" width="19" height="19" fill="#00cfff"/>
<rect x="726" y="399" width="20" height="19" fill="#00afff"/>
<rect x="746" y="399" width="19" height="19" fill="#0080ff"/>
<rect x="765" y="399" width="38" height="19" fill="#0020ff"/>
<rect x="803" y="399" width="19" height="19" fill="#0010ff"/>
<rect x="822" y="399" width="20" height="19" fill="#0050ff"/>
<rect x="842" y="399" width="19" height="19" fill="#0000ff"/>
<rect x="861" y="399" width="38" height="19" fill="#0030ff"/>
<rect x="899" y="399" width="39" height="19" fill="#0020ff"/>
<rect x="938" y="399" width="9" height="19" fill="#0050ff"/>
<rect x="169" y="418" width="19" height="19" fill="#0020ff"/>
<rect x="188" y="418" width="19" height="19" fill="#0010ff"/>
<rect x="207" y="418" width="19" height="19" fill="#0050ff"/>
<rect x="226" y="418" width="19" height="19" fill="#0020ff"/>
<rect x="245" y="418" width="20" height="19" fill="#0030ff"/>
<rect x="265" y="418" width="19" height="19" fill="#0010ff"/>
<rect x="284" y="418" width="19" height="19" fill="#0020ff"/>
<rect x="303" y="418" width="19" height="19" fill="#0000ff"/>
<rect x="322" y="418" width="20" height="19" fill="#0030ff"/>
<rect x="342" y="418" width="19" height="19" fill="#0000ef"/>
<rect x="361" y="418" width="19" height="19" fill="#0000ff"/>
<rect x="380" y="418" width="19" height="19" fill="#0000df"/>
<rect x="399" y="418" width="20" height="19" fill="#0060ff"/>
<rect x="419" y="418" width="19" height="19" fill="#0000ff"/>
<rect x="438" y="418" width="19" height="19" fill="#0050ff"/>
<rect x="457" y="418" width="19" height="19" fill="#0080ff"/>
<rect x="476" y="418" width="19" height="19" fill="#009fff"/>
<rect x="495" y="418" width="20" height="19" fill="#30ffcf"/>
<rect x="515" y="418" width="19" height="19" fill="#80ff80"/>
<rect x="534" y="418" width="19" height="19" fill="#ffcf00"/>
<rect x="553" y="418" width="19" height="19" fill="#ff1000"/>
<rect x="572" y="418" width="20" height="19" fill="#bf0000"/>
<rect x="592" y="418" width="19" height="19" fill="#800000"/>
<rect x="611" y="418" width="19" height="19" fill="#ff1000"/>
<rect x="630" y="418" width="19" height="19" fill="#ef0000"/>
<rect x="649" y="418" width="20" height="19" fill="#ff8f00"/>
<rect x="669" y="418" width="19" height="19" fill="#60ff9f"/>
<rect x="688" y="418" width="19" height="19" fill="#80ff80"/>
<rect x="707" y="418" width="19" height="19" fill="#00ffff"/>
<rect x="726" y="418" width="20" height="19" fill="#0060ff"/>
<rect x="746" y="418" width="19" height="19" fill="#0040ff"/>
<rect x="765" y="418" width="19" height="19" fill="#0020ff"/>
<rect x="784" y="418" width="38" height="19" fill="#0010ff"/>
<rect x="822" y="418" width="20" height="19" fill="#0050ff"/>
<rect x="842" y="418" width="19" height="19" fill="#0000ef"/>
<rect x="861" y="418" width="58" height="19" fill="#0030ff"/>
<rect x="919" y="418" width="19" height="19" fill="#0040ff"/>
<rect x="938" y="418" width="9" height="19" fill="#0030ff"/>
<rect x="169" y="437" width="19" height="20" fill="#0030ff"/>
<rect x="188" y="437" width="19" height="20" fill="#0020ff"/>
<rect x="207" y="437" width="19" height="20" fill="#0010ff"/>
<rect x="226" y="437" width="19" height="20" fill="#0030ff"/>
<rect x="245" y="437" width="39" height="20" fill="#0010ff"/>
<rect x="284" y="437" width="38" height="20" fill="#0000ff"/>
<rect x="322" y="437" width="20" height="20" fill="#0040ff"/>
<rect x="342" y="437" width="19" height="20" fill="#0000cf"/>
<rect x="361" y="437" width="19" height="20" fill="#0000ff"/>
<rect x="380" y="437" width="19" height="20" fill="#0010ff"/>
<rect x="399" y="437" width="20" height="20" fill="#008fff"/>
<rect x="419" y="437" width="19" height="20" fill="#0000af"/>
<rect x="438" y="437" width="19" height="20" fill="#0040ff"/>
<rect x="457" y="437" width="19" height="20" fill="#00dfff"/>
<rect x="476" y="437" width="19" height="20" fill="#30ffcf"/>
<rect x="495" y="437" width="20" height="20" fill="#efff10"/>
<rect x="515" y="437" width="19" height="20" fill="#ffaf00"/>
<rect x="534" y="437" width="19" height="20" fill="#ff2000"/>
<rect x="553" y="437" width="19" height="20" fill="#9f0000"/>
<rect x="572" y="437" width="20" height="20" fill="#ef0000"/>
<rect x="592" y="437" width="19" height="20" fill="#bf0000"/>
<rect x="611" y="437" width="19" height="20" fill="#ff1000"/>
<rect x="630" y="437" width="19" height="20" fill="#ff0000"/>
<rect x="649" y="437" width="20" height="20" fill="#ffcf00"/>
<rect x="669" y="437" width="19" height="20" fill="#30ffcf"/>
<rect x="688" y="437" width="19" height="20" fill="#00bfff"/>
<rect x="707" y="437" width="19" height="20" fill="#008fff"/>
<rect x="726" y="437" width="20" height="20" fill="#0000ff"/>
<rect x="746" y="437" width="19" height="20" fill="#0020ff"/>
<rect x="765" y="437" width="19" height="20" fill="#0000cf"/>
<rect x="784" y="437" width="19" height="20" fill="#0000ef"/>
<rect x="803" y="437" width="19" height="20" fill="#0000ff"/>
<rect x="822" y="437" width="20" height="20" fill="#0010ff"/>
<rect x="842" y="437" width="19" height="20" fill="#0040ff"/>
<rect x="861" y="437" width="19" height="20" fill="#0000ef"/>
<rect x="880" y="437" width="58" height="20" fill="#0030ff"/>
<rect x="938" y="437" width="9" height="20" fill="#0020ff"/>
<rect x="169" y="457" width="19" height="19" fill="#0030ff"/>
<rect x="188" y="457" width="19" height="19" fill="#0020ff"/>
<rect x="207" y="457" width="38" height="19" fill="#0010ff"/>
<rect x="245" y="457" width="20" height="19" fill="#0000ff"/>
<rect x="265" y="457" width="19" height="19" fill="#0010ff"/>
<rect x="284" y="457" width="19" height="19" fill="#0000cf"/>
<rect x="303" y="457" width="19" height="19" fill="#0020ff"/>
<rect x="322" y="457" width="20" height="19" fill="#0000df"/>
<rect x="342" y="457" width="19" height="19" fill="#0000af"/>
<rect x="361" y="457" width="38" height="19" fill="#0000ef"/>
<rect x="399" y="457" width="20" height="19" fill="#0070ff"/>
<rect x="419" y="457" width="19" height="19" fill="#0080ff"/>
<rect x="438" y="457" width="19" height="19" fill="#0060ff"/>
<rect x="457" y="457" width="19" height="19" fill="#30ffcf"/>
<rect x="476" y="457" width="19" height="19" fill="#9fff60"/>
<rect x="495" y="457" width="20" height="19" fill="#ffef00"/>
<rect x="515" y="457" width="19" height="19" fill="#ff6000"/>
<rect x="534" y="457" width="19" height="19" fill="#9f0000"/>
<rect x="553" y="457" width="19" height="19" fill="#8f0000"/>
<rect x="572" y="457" width="20" height="19" fill="#800000"/>
<rect x="592" y="457" width="19" height="19" fill="#bf0000"/>
<rect x="611" y="457" width="19" height="19" fill="#9f0000"/>
<rect x="630" y="457" width="19" height="19" fill="#ff8f00"/>
<rect x="649" y="457" width="20" height="19" fill="#afff50"/>
<rect x="669" y="457" width="19" height="19" fill="#40ffbf"/>
<rect x="688" y="457" width="19" height="19" fill="#0070ff"/>
<rect x="707" y="457" width="19" height="19" fill="#008fff"/>
<rect x="726" y="457" width="20" height="19" fill="#0000af"/>
<rect x="746" y="457" width="19" height="19" fill="#0000ff"/>
<rect x="765" y="457" width="19" height="19" fill="#0020ff"/>
<rect x="784" y="457" width="19" height="19" fill="#0040ff"/>
<rect x="803" y="457" width="19" height="19" fill="#0000ff"/>
<rect x="822" y="457" width="20" height="19" fill="#0010ff"/>
<rect x="842" y="457" width="19" height="19" fill="#0030ff"/>
<rect x="861" y="457" width="19" height="19" fill="#0010ff"/>
<rect x="880" y="457" width="19" height="19" fill="#0020ff"/>
<rect x="899" y="457" width="20" height="19" fill="#0010ff"/>
<rect x="919" y="457" width="19" height="19" fill="#0030ff"/>
<rect x="938" y="457" width="9" height="19" fill="#0040ff"/>
<rect x="169" y="476" width="38" height="19" fill="#0030ff"/>
<rect x="207" y="476" width="19" height="19" fill="#0020ff"/>
<rect x="226" y="476" width="39" height="19" fill="#0000ff"/>
<rect x="265" y="476" width="38" height="19" fill="#0010ff"/>
<rect x="303" y="476" width="39" height="19" fill="#0030ff"/>
<rect x="342" y="476" width="38" height="19" fill="#0010ff"/>
<rect x="380" y="476" width="19" height="19" fill="#0000ef"/>
<rect x="399" y="476" width="20" height="19" fill="#0020ff"/>
<rect x="419" y="476" width="19" height="19" fill="#008fff"/>
<rect x="438" y="476" width="19" height="19" fill="#40ffbf"/>
<rect x="457" y="476" width="19" height="19" fill="#8fff70"/>
<rect x="476" y="476" width="19" height="19" fill="#bfff40"/>
<rect x="495" y="476" width="20" height="19" fill="#ffcf00"/>
<rect x="515" y="476" width="19" height="19" fill="#bf0000"/>
<rect x="534" y="476" width="19" height="19" fill="#800000"/>
<rect x="553" y="476" width="19" height="19" fill="#ef0000"/>
<rect x="572" y="476" width="20" height="19" fill="#bf0000"/>
<rect x="592" y="476" width="19" height="19" fill="#ff0000"/>
<rect x="611" y="476" width="19" height="19" fill="#ffaf00"/>
<rect x="630" y="476" width="19" height="19" fill="#8fff70"/>
<rect x="649" y="476" width="20" height="19" fill="#afff50"/>
<rect x="669" y="476" width="19" height="19" fill="#009fff"/>
<rect x="688" y="476" width="19" height="19" fill="#0020ff"/>
<rect x="707" y="476" width="39" height="19" fill="#0010ff"/>
<rect x="746" y="476" width="19" height="19" fill="#0040ff"/>
<rect x="765" y="476" width="19" height="19" fill="#0010ff"/>
<rect x="784" y="476" width="58" height="19" fill="#0030ff"/>
<rect x="842" y="476" width="19" height="19" fill="#0000ff"/>
<rect x="861" y="476" width="86" height="19" fill="#0020ff"/>
<rect x="169" y="495" width="38" height="19" fill="#0030ff"/>
<rect x="207" y="495" width="38" height="19" fill="#0020ff"/>
<rect x="245" y="495" width="39" height="19" fill="#0010ff"/>
<rect x="284" y="495" width="19" height="19" fill="#0000df"/>
<rect x="303" y="495" width="19" height="19" fill="#0040ff"/>
<rect x="322" y="495" width="20" height="19" fill="#0000ff"/>
<rect x="342" y="495" width="19" height="19" fill="#0020ff"/>
<rect x="361" y="495" width="19" height="19" fill="#0000ff"/>
<rect x="380" y="495" width="19" height="19" fill="#0000ef"/>
<rect x="399" y="495" width="20" height="19" fill="#00cfff"/>
<rect x="419" y="495" width="19" height="19" fill="#00efff"/>
<rect x="438" y="495" width="19" height="19" fill="#20ffdf"/>
<rect x="457" y="495" width="19" height="19" fill="#cfff30"/>
<rect x="476" y="495" width="19" height="19" fill="#ffdf00"/>
<rect x="495" y="495" width="39" height="19" fill="#ff5000"/>
<rect x="534" y="495" width="19" height="19" fill="#8f0000"/>
<rect x="553" y="495" width="19" height="19" fill="#cf0000"/>
<rect x="572" y="495" width="20" height="19" fill="#ff4000"/>
<rect x="592" y="495" width="19" height="19" fill="#ff7000"/>
<rect x="611" y="495" width="19" height="19" fill="#ff9f00"/>
<rect x="630" y="495" width="19" height="19" fill="#8fff70"/>
<rect x="649" y="495" width="20" height="19" fill="#40ffbf"/>
<rect x="669" y="495" width="19" height="19" fill="#00dfff"/>
<rect x="688" y="495" width="19" height="19" fill="#009fff"/>
<rect x="707" y="495" width="39" height="19" fill="#0000ff"/>
<rect x="746" y="495" width="19" height="19" fill="#0040ff"/>
<rect x="765" y="495" width="19" height="19" fill="#0010ff"/>
<rect x="784" y="495" width="19" height="19" fill="#0020ff"/>
<rect x="803" y="495" width="19" height="19" fill="#0000ff"/>
<rect x="822" y="495" width="39" height="19" fill="#0020ff"/>
<rect x="861" y="495" width="58" height="19" fill="#0030ff"/>
<rect x="919" y="495" width="28" height="19" fill="#0020ff"/>
<rect x="169" y="514" width="19" height="20" fill="#0030ff"/>
<rect x="188" y="514" width="57" height="20" fill="#0020ff"/>
<rect x="245" y="514" width="20" height="20" fill="#0010ff"/>
<rect x="265" y="514" width="38" height="20" fill="#0020ff"/>
<rect x="303" y="514" width="39" height="20" fill="#0000df"/>
<rect x="342" y="514" width="19" height="20" fill="#0000ff"/>
<rect x="361" y="514" width="19" height="20" fill="#0040ff"/>
<rect x="380" y="514" width="19" height="20" fill="#008fff"/>
<rect x="399" y="514" width="20" height="20" fill="#00cfff"/>
<rect x="419" y="514" width="19" height="20" fill="#10ffef"/>
<rect x="438" y="514" width="19" height="20" fill="#ffff00"/>
<rect x="457" y="514" width="19" height="20" fill="#ffbf00"/>
<rect x="476" y="514" width="19" height="20" fill="#ff8f00"/>
<rect x="495" y="514" width="20" height="20" fill="#cf0000"/>
<rect x="515" y="514" width="19" height="20" fill="#ef0000"/>
<rect x="534" y="514" width="38" height="20" fill="#ff2000"/>
<rect x="572" y="514" width="20" height="20" fill="#ff8f00"/>
<rect x="592" y="514" width="19" height="20" fill="#dfff20"/>
<rect x="611" y="514" width="19" height="20" fill="#70ff8f"/>
<rect x="630" y="514" width="19" height="20" fill="#30ffcf"/>
<rect x="649" y="514" width="20" height="20" fill="#00bfff"/>
<rect x="669" y="514" width="19" height="20" fill="#0070ff"/>
<rect x="688" y="514" width="19" height="20" fill="#0040ff"/>
<rect x="707" y="514" width="19" height="20" fill="#0000df"/>
<rect x="726" y="514" width="20" height="20" fill="#0000ff"/>
<rect x="746" y="514" width="19" height="20" fill="#0000df"/>
<rect x="765" y="514" width="19" height="20" fill="#0000ff"/>
<rect x="784" y="514" width="19" height="20" fill="#0050ff"/>
<rect x="803" y="514" width="19" height="20" fill="#0000ff"/>
<rect x="822" y="514" width="20" height="20" fill="#0020ff"/>
<rect x="842" y="514" width="19" height="20" fill="#0000ff"/>
<rect x="861" y="514" width="19" height="20" fill="#0030ff"/>
<rect x="880" y="514" width="58" height="20" fill="#0020ff"/>
<rect x="938" y="514" width="9" height="20" fill="#0030ff"/>
<rect x="169" y="534" width="19" height="19" fill="#0030ff"/>
<rect x="188" y="534" width="19" height="19" fill="#0040ff"/>
<rect x="207" y="534" width="58" height="19" fill="#0020ff"/>
<rect x="265" y="534" width="19" height="19" fill="#0010ff"/>
<rect x="284" y="534" width="19" height="19" fill="#0030ff"/>
<rect x="303" y="534" width="19" height="19" fill="#0000ef"/>
<rect x="322" y="534" width="20" height="19" fill="#0030ff"/>
<rect x="342" y="534" width="19" height="19" fill="#0000ff"/>
<rect x="361" y="534" width="38" height="19" fill="#0040ff"/>
<rect x="399" y="534" width="20" height="19" fill="#00efff"/>
<rect x="419" y="534" width="19" height="19" fill="#60ff9f"/>
<rect x="438" y="534" width="19" height="19" fill="#ffcf00"/>
<rect x="457" y="534" width="19" height="19" fill="#efff10"/>
<rect x="476" y="534" width="19" height="19" fill="#ff9f00"/>
<rect x="495" y="534" width="20" height="19" fill="#bf0000"/>
<rect x="515" y="534" width="19" height="19" fill="#ff2000"/>
<rect x="534" y="534" width="19" height="19" fill="#ff4000"/>
<rect x="553" y="534" width="19" height="19" fill="#dfff20"/>
<rect x="572" y="534" width="20" height="19" fill="#ffef00"/>
<rect x="592" y="534" width="19" height="19" fill="#bfff40"/>
<rect x="611" y="534" width="38" height="19" fill="#00bfff"/>
<rect x="649" y="534" width="20" height="19" fill="#008fff"/>
<rect x="669" y="534" width="38" height="19" fill="#0020ff"/>
<rect x="707" y="534" width="19" height="19" fill="#0040ff"/>
<rect x="726" y="534" width="20" height="19" fill="#0000ef"/>
<rect x="746" y="534" width="19" height="19" fill="#0000ff"/>
<rect x="765" y="534" width="19" height="19" fill="#0030ff"/>
<rect x="784" y="534" width="19" height="19" fill="#0000df"/>
<rect x="803" y="534" width="19" height="19" fill="#0020ff"/>
<rect x="822" y="534" width="20" height="19" fill="#0040ff"/>
<rect x="842" y="534" width="19" height="19" fill="#0030ff"/>
<rect x="861" y="534" width="19" height="19" fill="#0000ff"/>
<rect x="880" y="534" width="19" height="19" fill="#0050ff"/>
<rect x="899" y="534" width="20" height="19" fill="#0030ff"/>
<rect x="919" y="534" width="19" height="19" fill="#0020ff"/>
<rect x="938" y="534" width="9" height="19" fill="#0030ff"/>
<rect x="169" y="553" width="19" height="19" fill="#0020ff"/>
<rect x="188" y="553" width="19" height="19" fill="#0030ff"/>
<rect x="207" y="553" width="19" height="19" fill="#0020ff"/>
<rect x="226" y="553" width="19" height="19" fill="#0010ff"/>
<rect x="245" y="553" width="20" height="19" fill="#0030ff"/>
<rect x="265" y="553" width="19" height="19" fill="#0010ff"/>
<rect x="284" y="553" width="19" height="19" fill="#0050ff"/>
<rect x="303" y="553" width="39" height="19" fill="#0020ff"/>
<rect x="342" y="553" width="38" height="19" fill="#0040ff"/>
<rect x="380" y="553" width="19" height="19" fill="#008fff"/>
<rect x="399" y="553" width="20" height="19" fill="#20ffdf"/>
<rect x="419" y="553" width="19" height="19" fill="#80ff80"/>
<rect x="438" y="553" width="19" height="19" fill="#9fff60"/>
<rect x="457" y="553" width="19" height="19" fill="#ffbf00"/>
<rect x="476" y="553" width="19" height="19" fill="#ff5000"/>
<rect x="495" y="553" width="20" height="19" fill="#ffdf00"/>
<rect x="515" y="553" width="19" height="19" fill="#ff9f00"/>
<rect x="534" y="553" width="19" height="19" fill="#ffdf00"/>
<rect x="553" y="553" width="19" height="19" fill="#8fff70"/>
<rect x="572" y="553" width="20" height="19" fill="#afff50"/>
<rect x="592" y="553" width="19" height="19" fill="#00ffff"/>
<rect x="611" y="553" width="38" height="19" fill="#0070ff"/>
<rect x="649" y="553" width="20" height="19" fill="#0050ff"/>
<rect x="669" y="553" width="19" height="19" fill="#0060ff"/>
<rect x="688" y="553" width="19" height="19" fill="#0000df"/>
<rect x="707" y="553" width="19" height="19" fill="#0040ff"/>
<rect x="726" y="553" width="20" height="19" fill="#0030ff"/>
<rect x="746" y="553" width="19" height="19" fill="#0060ff"/>
<rect x="765" y="553" width="19" height="19" fill="#0000bf"/>
<rect x="784" y="553" width="19" height="19" fill="#0020ff"/>
<rect x="803" y="553" width="19" height="19" fill="#0010ff"/>
<rect x="822" y="553" width="20" height="19" fill="#0000df"/>
<rect x="842" y="553" width="38" height="19" fill="#0030ff"/>
<rect x="880" y="553" width="39" height="19" fill="#0020ff"/>
<rect x="919" y="553" width="28" height="19" fill="#0030ff"/>
<rect x="169" y="572" width="19" height="19" fill="#0020ff"/>
<rect x="188" y="572" width="19" height="19" fill="#0030ff"/>
<rect x="207" y="572" width="38" height="19" fill="#0020ff"/>
<rect x="245" y="572" width="20" height="19" fill="#0030ff"/>
<rect x="265" y="572" width="19" height="19" fill="#0040ff"/>
<rect x="284" y="572" width="19" height="19" fill="#0020ff"/>
<rect x="303" y="572" width="19" height="19" fill="#0030ff"/>
<rect x="322" y="572" width="20" height="19" fill="#0060ff"/>
<rect x="342" y="572" width="19" height="19" fill="#0070ff"/>
<rect x="361" y="572" width="19" height="19" fill="#0050ff"/>
<rect x="380" y="572" width="19" height="19" fill="#00ffff"/>
<rect x="399" y="572" width="20" height="19" fill="#40ffbf"/>
<rect x="419" y="572" width="19" height="19" fill="#50ffaf"/>
<rect x="438" y="572" width="38" height="19" fill="#ffdf00"/>
<rect x="476" y="572" width="19" height="19" fill="#ffaf00"/>
<rect x="495" y="572" width="20" height="19" fill="#ffff00"/>
<rect x="515" y="572" width="19" height="19" fill="#8fff70"/>
<rect x="534" y="572" width="19" height="19" fill="#bfff40"/>
<rect x="553" y="572" width="19" height="19" fill="#00ffff"/>
<rect x="572" y="572" width="20" height="19" fill="#009fff"/>
<rect x="592" y="572" width="19" height="19" fill="#0080ff"/>
<rect x="611" y="572" width="19" height="19" fill="#0060ff"/>
<rect x="630" y="572" width="19" height="19" fill="#0030ff"/>
<rect x="649" y="572" width="20" height="19" fill="#0000ff"/>
<rect x="669" y="572" width="19" height="19" fill="#0030ff"/>
<rect x="688" y="572" width="19" height="19" fill="#0020ff"/>
<rect x="707" y="572" width="39" height="19" fill="#0000ef"/>
<rect x="746" y="572" width="19" height="19" fill="#0040ff"/>
<rect x="765" y="572" width="19" height="19" fill="#0000ef"/>
<rect x="784" y="572" width="19" height="19" fill="#0020ff"/>
<rect x="803" y="572" width="19" height="19" fill="#0010ff"/>
<rect x="822" y="572" width="20" height="19" fill="#0020ff"/>
<rect x="842" y="572" width="19" height="19" fill="#0040ff"/>
<rect x="861" y="572" width="19" height="19" fill="#0030ff"/>
<rect x="880" y="572" width="19" height="19" fill="#0040ff"/>
<rect x="899" y="572" width="20" height="19" fill="#0020ff"/>
<rect x="919" y="572" width="19" height="19" fill="#0010ff"/>
<rect x="938" y="572" width="9" height="19" fill="#0040ff"/>
<rect x="169" y="591" width="38" height="20" fill="#0030ff"/>
<rect x="207" y="591" width="19" height="20" fill="#0020ff"/>
<rect x="226" y="591" width="19" height="20" fill="#0000ff"/>
<rect x="245" y="591" width="20" height="20" fill="#0030ff"/>
<rect x="265" y="591" width="38" height="20" fill="#0020ff"/>
<rect x="303" y="591" width="39" height="20" fill="#0030ff"/>
<rect x="342" y="591" width="19" height="20" fill="#0070ff"/>
<rect x="361" y="591" width="19" height="20" fill="#00bfff"/>
<rect x="380" y="591" width="19" height="20" fill="#008fff"/>
<rect x="399" y="591" width="20" height="20" fill="#50ffaf"/>
<rect x="419" y="591" width="19" height="20" fill="#dfff20"/>
<rect x="438" y="591" width="19" height="20" fill="#afff50"/>
<rect x="457" y="591" width="19" height="20" fill="#9fff60"/>
<rect x="476" y="591" width="19" height="20" fill="#ffef00"/>
<rect x="495" y="591" width="20" height="20" fill="#8fff70"/>
<rect x="515" y="591" width="19" height="20" fill="#cfff30"/>
<rect x="534" y="591" width="19" height="20" fill="#60ff9f"/>
<rect x="553" y="591" width="19" height="20" fill="#00efff"/>
<rect x="572" y="591" width="20" height="20" fill="#0050ff"/>
<rect x="592" y="591" width="19" height="20" fill="#0080ff"/>
<rect x="611" y="591" width="19" height="20" fill="#0020ff"/>
<rect x="630" y="591" width="19" height="20" fill="#0010ff"/>
<rect x="649" y="591" width="20" height="20" fill="#0030ff"/>
<rect x="669" y="591" width="19" height="20" fill="#0050ff"/>
<rect x="688" y="591" width="58" height="20" fill="#0040ff"/>
<rect x="746" y="591" width="19" height="20" fill="#0030ff"/>
<rect x="765" y="591" width="19" height="20" fill="#0040ff"/>
<rect x="784" y="591" width="19" height="20" fill="#0050ff"/>
<rect x="803" y="591" width="19" height="20" fill="#0020ff"/>
<rect x="822" y="591" width="20" height="20" fill="#0050ff"/>
<rect x="842" y="591" width="38" height="20" fill="#0020ff"/>
<rect x="880" y="591" width="19" height="20" fill="#0030ff"/>
<rect x="899" y="591" width="20" height="20" fill="#0040ff"/>
<rect x="919" y="591" width="19" height="20" fill="#0020ff"/>
<rect x="938" y="591" width="9" height="20" fill="#0030ff"/>
<rect x="169" y="611" width="19" height="19" fill="#0030ff"/>
<rect x="188" y="611" width="19" height="19" fill="#0020ff"/>
<rect x="207" y="611" width="38" height="19" fill="#0030ff"/>
<rect x="245" y="611" width="20" height="19" fill="#0010ff"/>
<rect x="265" y="611" width="19" height="19" fill="#0050ff"/>
<rect x="284" y="611" width="19" height="19" fill="#0060ff"/>
<rect x="303" y="611" width="39" height="19" fill="#0050ff"/>
<rect x="342" y="611" width="19" height="19" fill="#00afff"/>
<rect x="361" y="611" width="19" height="19" fill="#0070ff"/>
<rect x="380" y="611" width="19" height="19" fill="#00cfff"/>
<rect x="399" y="611" width="20" height="19" fill="#00ffff"/>
<rect x="419" y="611" width="19" height="19" fill="#70ff8f"/>
<rect x="438" y="611" width="19" height="19" fill="#50ffaf"/>
<rect x="457" y="611" width="19" height="19" fill="#60ff9f"/>
<rect x="476" y="611" width="39" height="19" fill="#8fff70"/>
<rect x="515" y="611" width="19" height="19" fill="#00afff"/>
<rect x="534" y="611" width="19" height="19" fill="#00cfff"/>
<rect x="553" y="611" width="19" height="19" fill="#0070ff"/>
<rect x="572" y="611" width="20" height="19" fill="#0060ff"/>
<rect x="592" y="611" width="19" height="19" fill="#0000ef"/>
<rect x="611" y="611" width="19" height="19" fill="#0000cf"/>
<rect x="630" y="611" width="19" height="19" fill="#0010ff"/>
<rect x="649" y="611" width="20" height="19" fill="#0020ff"/>
<rect x="669" y="611" width="19" height="19" fill="#0010ff"/>
<rect x="688" y="611" width="19" height="19" fill="#0080ff"/>
<rect x="707" y="611" width="19" height="19" fill="#0030ff"/>
<rect x="726" y="611" width="20" height="19" fill="#0020ff"/>
<rect x="746" y="611" width="96" height="19" fill="#0030ff"/>
<rect x="842" y="611" width="57" height="19" fill="#0020ff"/>
<rect x="899" y="611" width="20" height="19" fill="#0040ff"/>
<rect x="919" y="611" width="19" height="19" fill="#0020ff"/>
<rect x="938" y="611" width="9" height="19" fill="#0030ff"/>
<rect x="169" y="630" width="19" height="19" fill="#0040ff"/>
<rect x="188" y="630" width="19" height="19" fill="#0020ff"/>
<rect x="207" y="630" width="19" height="19" fill="#0040ff"/>
<rect x="226" y="630" width="39" height="19" fill="#0030ff"/>
<rect x="265" y="630" width="19" height="19" fill="#0040ff"/>
<rect x="284" y="630" width="19" height="19" fill="#0050ff"/>
<rect x="303" y="630" width="39" height="19" fill="#0060ff"/>
<rect x="342" y="630" width="19" height="19" fill="#00afff"/>
<rect x="361" y="630" width="19" height="19" fill="#00ffff"/>
<rect x="380" y="630" width="19" height="19" fill="#00efff"/>
<rect x="399" y="630" width="39" height="19" fill="#10ffef"/>
<rect x="438" y="630" width="19" height="19" fill="#8fff70"/>
<rect x="457" y="630" width="38" height="19" fill="#10ffef"/>
<rect x="495" y="630" width="20" height="19" fill="#00dfff"/>
<rect x="515" y="630" width="19" height="19" fill="#008fff"/>
<rect x="534" y="630" width="19" height="19" fill="#0030ff"/>
<rect x="553" y="630" width="19" height="19" fill="#008fff"/>
<rect x="572" y="630" width="20" height="19" fill="#0040ff"/>
<rect x="592" y="630" width="38" height="19" fill="#0030ff"/>
<rect x="630" y="630" width="19" height="19" fill="#0000ff"/>
<rect x="649" y="630" width="20" height="19" fill="#0030ff"/>
<rect x="669" y="630" width="19" height="19" fill="#0000ff"/>
<rect x="688" y="630" width="19" height="19" fill="#0030ff"/>
<rect x="707" y="630" width="19" height="19" fill="#0040ff"/>
<rect x="726" y="630" width="20" height="19" fill="#0000af"/>
<rect x="746" y="630" width="19" height="19" fill="#0010ff"/>
<rect x="765" y="630" width="19" height="19" fill="#0040ff"/>
<rect x="784" y="630" width="77" height="19" fill="#0030ff"/>
<rect x="861" y="630" width="19" height="19" fill="#0040ff"/>
<rect x="880" y="630" width="19" height="19" fill="#0020ff"/>
<rect x="899" y="630" width="39" height="19" fill="#0030ff"/>
<rect x="938" y="630" width="9" height="19" fill="#0020ff"/>
<rect x="169" y="649" width="38" height="19" fill="#0030ff"/>
<rect x="207" y="649" width="19" height="19" fill="#0020ff"/>
<rect x="226" y="649" width="19" height="19" fill="#0050ff"/>
<rect x="245" y="649" width="20" height="19" fill="#0020ff"/>
<rect x="265" y="649" width="19" height="19" fill="#0060ff"/>
<rect x="284" y="649" width="19" height="19" fill="#0070ff"/>
<rect x="303" y="649" width="19" height="19" fill="#0020ff"/>
<rect x="322" y="649" width="20" height="19" fill="#0080ff"/>
<rect x="342" y="649" width="19" height="19" fill="#0050ff"/>
<rect x="361" y="649" width="19" height="19" fill="#00bfff"/>
<rect x="380" y="649" width="19" height="19" fill="#60ff9f"/>
<rect x="399" y="649" width="20" height="19" fill="#00cfff"/>
<rect x="419" y="649" width="19" height="19" fill="#10ffef"/>
<rect x="438" y="649" width="19" height="19" fill="#00efff"/>
<rect x="457" y="649" width="19" height="19" fill="#0070ff"/>
<rect x="476" y="649" width="19" height="19" fill="#00dfff"/>
<rect x="495" y="649" width="20" height="19" fill="#009fff"/>
<rect x="515" y="649" width="19" height="19" fill="#0070ff"/>
<rect x="534" y="649" width="19" height="19" fill="#0050ff"/>
<rect x="553" y="649" width="19" height="19" fill="#0030ff"/>
<rect x="572" y="649" width="20" height="19" fill="#0000ff"/>
<rect x="592" y="649" width="19" height="19" fill="#0030ff"/>
<rect x="611" y="649" width="19" height="19" fill="#0050ff"/>
<rect x="630" y="649" width="19" height="19" fill="#0010ff"/>
<rect x="649" y="649" width="58" height="19" fill="#0040ff"/>
<rect x="707" y="649" width="19" height="19" fill="#0010ff"/>
<rect x="726" y="649" width="20" height="19" fill="#0050ff"/>
<rect x="746" y="649" width="19" height="19" fill="#0040ff"/>
<rect x="765" y="649" width="19" height="19" fill="#0010ff"/>
<rect x="784" y="649" width="58" height="19" fill="#0030ff"/>
<rect x="842" y="649" width="19" height="19" fill="#0040ff"/>
<rect x="861" y="649" width="19" height="19" fill="#0030ff"/>
<rect x="880" y="649" width="19" height="19" fill="#0020ff"/>
<rect x="899" y="649" width="48" height="19" fill="#0040ff"/>
<rect x="169" y="668" width="38" height="20" fill="#0030ff"/>
<rect x="207" y="668" width="19" height="20" fill="#0040ff"/>
<rect x="226" y="668" width="39" height="20" fill="#0020ff"/>
<rect x="265" y="668" width="19" height="20" fill="#0040ff"/>
<rect x="284" y="668" width="19" height="20" fill="#0050ff"/>
<rect x="303" y="668" width="19" height="20" fill="#0030ff"/>
<rect x="322" y="668" width="39" height="20" fill="#0080ff"/>
<rect x="361" y="668" width="19" height="20" fill="#00efff"/>
<rect x="380" y="668" width="19" height="20" fill="#10ffef"/>
<rect x="399" y="668" width="20" height="20" fill="#008fff"/>
<rect x="419" y="668" width="19" height="20" fill="#0080ff"/>
<rect x="438" y="668" width="19" height="20" fill="#00bfff"/>
<rect x="457" y="668" width="19" height="20" fill="#0070ff"/>
<rect x="476" y="668" width="19" height="20" fill="#10ffef"/>
<rect x="495" y="668" width="20" height="20" fill="#0040ff"/>
<rect x="515" y="668" width="19" height="20" fill="#0000df"/>
<rect x="534" y="668" width="19" height="20" fill="#0000ef"/>
<rect x="553" y="668" width="19" height="20" fill="#0020ff"/>
<rect x="572" y="668" width="20" height="20" fill="#0010ff"/>
<rect x="592" y="668" width="19" height="20" fill="#0000cf"/>
<rect x="611" y="668" width="19" height="20" fill="#0000df"/>
<rect x="630" y="668" width="19" height="20" fill="#008fff"/>
<rect x="649" y="668" width="39" height="20" fill="#0020ff"/>
<rect x="688" y="668" width="19" height="20" fill="#0040ff"/>
<rect x="707" y="668" width="19" height="20" fill="#0010ff"/>
<rect x="726" y="668" width="20" height="20" fill="#0030ff"/>
<rect x="746" y="668" width="19" height="20" fill="#0000ff"/>
<rect x="765" y="668" width="19" height="20" fill="#0020ff"/>
<rect x="784" y="668" width="19" height="20" fill="#0000ff"/>
<rect x="803" y="668" width="19" height="20" fill="#0030ff"/>
<rect x="822" y="668" width="39" height="20" fill="#0020ff"/>
<rect x="861" y="668" width="38" height="20" fill="#0030ff"/>
<rect x="899" y="668" width="20" height="20" fill="#0040ff"/>
<rect x="919" y="668" width="19" height="20" fill="#0030ff"/>
<rect x="938" y="668" width="9" height="20" fill="#0040ff"/>
<rect x="169" y="688" width="38" height="19" fill="#0030ff"/>
<rect x="207" y="688" width="38" height="19" fill="#0040ff"/>
<rect x="245" y="688" width="39" height="19" fill="#0050ff"/>
<rect x="284" y="688" width="19" height="19" fill="#0030ff"/>
<rect x="303" y="688" width="39" height="19" fill="#0060ff"/>
<rect x="342" y="688" width="19" height="19" fill="#0080ff"/>
<rect x="361" y="688" width="38" height="19" fill="#009fff"/>
<rect x="399" y="688" width="20" height="19" fill="#0070ff"/>
<rect x="419" y="688" width="19" height="19" fill="#0080ff"/>
<rect x="438" y="688" width="19" height="19" fill="#0040ff"/>
<rect x="457" y="688" width="38" height="19" fill="#0060ff"/>
<rect x="495" y="688" width="20" height="19" fill="#0030ff"/>
<rect x="515" y="688" width="19" height="19" fill="#0010ff"/>
<rect x="534" y="688" width="19" height="19" fill="#0000ef"/>
<rect x="553" y="688" width="19" height="19" fill="#0000cf"/>
<rect x="572" y="688" width="39" height="19" fill="#0000ff"/>
<rect x="611" y="688" width="19" height="19" fill="#0040ff"/>
<rect x="630" y="688" width="19" height="19" fill="#0030ff"/>
<rect x="649" y="688" width="20" height="19" fill="#0020ff"/>
<rect x="669" y="688" width="38" height="19" fill="#0040ff"/>
<rect x="707" y="688" width="19" height="19" fill="#0000ff"/>
<rect x="726" y="688" width="20" height="19" fill="#0080ff"/>
<rect x="746" y="688" width="19" height="19" fill="#0000cf"/>
<rect x="765" y="688" width="19" height="19" fill="#0020ff"/>
<rect x="784" y="688" width="19" height="19" fill="#0030ff"/>
<rect x="803" y="688" width="39" height="19" fill="#0050ff"/>
<rect x="842" y="688" width="19" height="19" fill="#0040ff"/>
<rect x="861" y="688" width="19" height="19" fill="#0020ff"/>
<rect x="880" y="688" width="19" height="19" fill="#0040ff"/>
<rect x="899" y="688" width="48" height="19" fill="#0030ff"/>
<rect x="169" y="707" width="19" height="19" fill="#0030ff"/>
<rect x="188" y="707" width="19" height="19" fill="#0040ff"/>
<rect x="207" y="707" width="19" height="19" fill="#0050ff"/>
<rect x="226" y="707" width="19" height="19" fill="#0020ff"/>
<rect x="245" y="707" width="20" height="19" fill="#0010ff"/>
<rect x="265" y="707" width="19" height="19" fill="#0040ff"/>
<rect x="284" y="707" width="19" height="19" fill="#0060ff"/>
<rect x="303" y="707" width="19" height="19" fill="#0030ff"/>
<rect x="322" y="707" width="20" height="19" fill="#0070ff"/>
<rect x="342" y="707" width="19" height="19" fill="#008fff"/>
<rect x="361" y="707" width="19" height="19" fill="#0080ff"/>
<rect x="380" y="707" width="39" height="19" fill="#009fff"/>
<rect x="419" y="707" width="38" height="19" fill="#0080ff"/>
<rect x="457" y="707" width="19" height="19" fill="#0060ff"/>
<rect x="476" y="707" width="19" height="19" fill="#0020ff"/>
<rect x="495" y="707" width="20" height="19" fill="#0010ff"/>
<rect x="515" y="707" width="19" height="19" fill="#0020ff"/>
<rect x="534" y="707" width="19" height="19" fill="#0000ef"/>
<rect x="553" y="707" width="19" height="19" fill="#0000af"/>
<rect x="572" y="707" width="20" height="19" fill="#0030ff"/>
<rect x="592" y="707" width="19" height="19" fill="#0000df"/>
<rect x="611" y="707" width="19" height="19" fill="#0030ff"/>
<rect x="630" y="707" width="19" height="19" fill="#0000ef"/>
<rect x="649" y="707" width="20" height="19" fill="#0060ff"/>
<rect x="669" y="707" width="19" height="19" fill="#0020ff"/>
<rect x="688" y="707" width="38" height="19" fill="#0050ff"/>
<rect x="726" y="707" width="20" height="19" fill="#0020ff"/>
<rect x="746" y="707" width="19" height="19" fill="#0040ff"/>
<rect x="765" y="707" width="19" height="19" fill="#0030ff"/>
<rect x="784" y="707" width="19" height="19" fill="#0050ff"/>
<rect x="803" y="707" width="19" height="19" fill="#0000ff"/>
<rect x="822" y="707" width="97" height="19" fill="#0030ff"/>
<rect x="919" y="707" width="19" height="19" fill="#0040ff"/>
<rect x="938" y="707" width="9" height="19" fill="#0030ff"/>
<rect x="169" y="726" width="19" height="19" fill="#0030ff"/>
<rect x="188" y="726" width="38" height="19" fill="#0040ff"/>
<rect x="226" y="726" width="39" height="19" fill="#0050ff"/>
<rect x="265" y="726" width="19" height="19" fill="#0060ff"/>
<rect x="284" y="726" width="19" height="19" fill="#0050ff"/>
<rect x="303" y="726" width="39" height="19" fill="#0060ff"/>
<rect x="342" y="726" width="38" height="19" fill="#0080ff"/>
<rect x="380" y="726" width="19" height="19" fill="#0050ff"/>
<rect x="399" y="726" width="20" height="19" fill="#0020ff"/>
<rect x="419" y="726" width="19" height="19" fill="#0080ff"/>
<rect x="438" y="726" width="19" height="19" fill="#0000ff"/>
<rect x="457" y="726" width="19" height="19" fill="#0060ff"/>
<rect x="476" y="726" width="19" height="19" fill="#0010ff"/>
<rect x="495" y="726" width="20" height="19" fill="#0000df"/>
<rect x="515" y="726" width="19" height="19" fill="#0030ff"/>
<rect x="534" y="726" width="19" height="19" fill="#0000ef"/>
<rect x="553" y="726" width="19" height="19" fill="#0040ff"/>
<rect x="572" y="726" width="20" height="19" fill="#0000ff"/>
<rect x="592" y="726" width="19" height="19" fill="#0030ff"/>
<rect x="611" y="726" width="19" height="19" fill="#0040ff"/>
<rect x="630" y="726" width="19" height="19" fill="#0010ff"/>
<rect x="649" y="726" width="20" height="19" fill="#00009f"/>
<rect x="669" y="726" width="19" height="19" fill="#0000ff"/>
<rect x="688" y="726" width="19" height="19" fill="#0010ff"/>
<rect x="707" y="726" width="19" height="19" fill="#0060ff"/>
<rect x="726" y="726" width="20" height="19" fill="#0000cf"/>
<rect x="746" y="726" width="19" height="19" fill="#0030ff"/>
<rect x="765" y="726" width="19" height="19" fill="#0010ff"/>
<rect x="784" y="726" width="58" height="19" fill="#0030ff"/>
<rect x="842" y="726" width="19" height="19" fill="#0050ff"/>
<rect x="861" y="726" width="38" height="19" fill="#0020ff"/>
<rect x="899" y="726" width="20" height="19" fill="#0040ff"/>
<rect x="919" y="726" width="28" height="19" fill="#0030ff"/>
<rect x="169" y="745" width="38" height="19" fill="#0030ff"/>
<rect x="207" y="745" width="38" height="19" fill="#0040ff"/>
<rect x="245" y="745" width="77" height="19" fill="#0050ff"/>
<rect x="322" y="745" width="39" height="19" fill="#0060ff"/>
<rect x="361" y="745" width="19" height="19" fill="#0040ff"/>
<rect x="380" y="745" width="19" height="19" fill="#0060ff"/>
<rect x="399" y="745" width="20" height="19" fill="#0030ff"/>
<rect x="419" y="745" width="19" height="19" fill="#008fff"/>
<rect x="438" y="745" width="38" height="19" fill="#0050ff"/>
<rect x="476" y="745" width="19" height="19" fill="#0000ff"/>
<rect x="495" y="745" width="39" height="19" fill="#0030ff"/>
<rect x="534" y="745" width="19" height="19" fill="#0010ff"/>
<rect x="553" y="745" width="19" height="19" fill="#0050ff"/>
<rect x="572" y="745" width="39" height="19" fill="#0020ff"/>
<rect x="611" y="745" width="19" height="19" fill="#0000df"/>
<rect x="630" y="745" width="19" height="19" fill="#0050ff"/>
<rect x="649" y="745" width="20" height="19" fill="#0000ff"/>
<rect x="669" y="745" width="19" height="19" fill="#0080ff"/>
<rect x="688" y="745" width="38" height="19" fill="#0030ff"/>
<rect x="726" y="745" width="20" height="19" fill="#0040ff"/>
<rect x="746" y="745" width="19" height="19" fill="#0030ff"/>
<rect x="765" y="745" width="38" height="19" fill="#0040ff"/>
<rect x="803" y="745" width="19" height="19" fill="#0030ff"/>
<rect x="822" y="745" width="20" height="19" fill="#0040ff"/>
<rect x="842" y="745" width="19" height="19" fill="#0030ff"/>
<rect x="861" y="745" width="19" height="19" fill="#0020ff"/>
<rect x="880" y="745" width="67" height="19" fill="#0030ff"/>
<rect x="169" y="764" width="19" height="20" fill="#0040ff"/>
<rect x="188" y="764" width="19" height="20" fill="#0030ff"/>
<rect x="207" y="764" width="58" height="20" fill="#0040ff"/>
<rect x="265" y="764" width="19" height="20" fill="#0050ff"/>
<rect x="284" y="764" width="19" height="20" fill="#0070ff"/>
<rect x="303" y="764" width="19" height="20" fill="#0040ff"/>
<rect x="322" y="764" width="20" height="20" fill="#0060ff"/>
<rect x="342" y="764" width="19" height="20" fill="#0040ff"/>
<rect x="361" y="764" width="38" height="20" fill="#0050ff"/>
<rect x="399" y="764" width="20" height="20" fill="#0000ef"/>
<rect x="419" y="764" width="19" height="20" fill="#0020ff"/>
<rect x="438" y="764" width="19" height="20" fill="#0030ff"/>
<rect x="457" y="764" width="19" height="20" fill="#0000ff"/>
<rect x="476" y="764" width="58" height="20" fill="#0010ff"/>
<rect x="534" y="764" width="19" height="20" fill="#0040ff"/>
<rect x="553" y="764" width="19" height="20" fill="#0000df"/>
<rect x="572" y="764" width="20" height="20" fill="#0000ff"/>
<rect x="592" y="764" width="19" height="20" fill="#0040ff"/>
<rect x="611" y="764" width="19" height="20" fill="#0010ff"/>
<rect x="630" y="764" width="19" height="20" fill="#0020ff"/>
<rect x="649" y="764" width="20" height="20" fill="#0030ff"/>
<rect x="669" y="764" width="19" height="20" fill="#0010ff"/>
<rect x="688" y="764" width="38" height="20" fill="#0020ff"/>
<rect x="726" y="764" width="20" height="20" fill="#0040ff"/>
<rect x="746" y="764" width="38" height="20" fill="#0030ff"/>
<rect x="784" y="764" width="19" height="20" fill="#0000ff"/>
<rect x="803" y="764" width="19" height="20" fill="#0020ff"/>
<rect x="822" y="764" width="58" height="20" fill="#0030ff"/>
<rect x="880" y="764" width="39" height="20" fill="#0040ff"/>
<rect x="919" y="764" width="28" height="20" fill="#0030ff"/>
<rect x="169" y="784" width="38" height="19" fill="#0030ff"/>
<rect x="207" y="784" width="19" height="19" fill="#0040ff"/>
<rect x="226" y="784" width="19" height="19" fill="#0020ff"/>
<rect x="245" y="784" width="58" height="19" fill="#0050ff"/>
<rect x="303" y="784" width="19" height="19" fill="#0040ff"/>
<rect x="322" y="784" width="20" height="19" fill="#0060ff"/>
<rect x="342" y="784" width="19" height="19" fill="#0030ff"/>
<rect x="361" y="784" width="96" height="19" fill="#0040ff"/>
<rect x="457" y="784" width="19" height="19" fill="#0010ff"/>
<rect x="476" y="784" width="19" height="19" fill="#0000ef"/>
<rect x="495" y="784" width="20" height="19" fill="#0010ff"/>
<rect x="515" y="784" width="19" height="19" fill="#0030ff"/>
<rect x="534" y="784" width="19" height="19" fill="#0040ff"/>
<rect x="553" y="784" width="19" height="19" fill="#0000ff"/>
<rect x="572" y="784" width="97" height="19" fill="#0020ff"/>
<rect x="669" y="784" width="19" height="19" fill="#0010ff"/>
<rect x="688" y="784" width="19" height="19" fill="#0050ff"/>
<rect x="707" y="784" width="19" height="19" fill="#0010ff"/>
<rect x="726" y="784" width="39" height="19" fill="#0030ff"/>
<rect x="765" y="784" width="19" height="19" fill="#0040ff"/>
<rect x="784" y="784" width="115" height="19" fill="#0030ff"/>
<rect x="899" y="784" width="39" height="19" fill="#0040ff"/>
<rect x="938" y="784" width="9" height="19" fill="#0030ff"/>
<rect x="169" y="803" width="19" height="19" fill="#0030ff"/>
<rect x="188" y="803" width="19" height="19" fill="#0040ff"/>
<rect x="207" y="803" width="19" height="19" fill="#0030ff"/>
<rect x="226" y="803" width="39" height="19" fill="#0040ff"/>
<rect x="265" y="803" width="19" height="19" fill="#0050ff"/>
<rect x="284" y="803" width="38" height="19" fill="#0040ff"/>
<rect x="322" y="803" width="20" height="19" fill="#0010ff"/>
<rect x="342" y="803" width="19" height="19" fill="#0050ff"/>
<rect x="361" y="803" width="19" height="19" fill="#0040ff"/>
<rect x="380" y="803" width="19" height="19" fill="#0020ff"/>
<rect x="399" y="803" width="77" height="19" fill="#0040ff"/>
<rect x="476" y="803" width="19" height="19" fill="#0010ff"/>
<rect x="495" y="803" width="20" height="19" fill="#0030ff"/>
<rect x="515" y="803" width="38" height="19" fill="#0000ff"/>
<rect x="553" y="803" width="19" height="19" fill="#0030ff"/>
<rect x="572" y="803" width="58" height="19" fill="#0020ff"/>
<rect x="630" y="803" width="19" height="19" fill="#0000ff"/>
<rect x="649" y="803" width="20" height="19" fill="#0020ff"/>
<rect x="669" y="803" width="19" height="19" fill="#0030ff"/>
<rect x="688" y="803" width="19" height="19" fill="#0020ff"/>
<rect x="707" y="803" width="19" height="19" fill="#0030ff"/>
<rect x="726" y="803" width="20" height="19" fill="#0020ff"/>
<rect x="746" y="803" width="38" height="19" fill="#0030ff"/>
<rect x="784" y="803" width="19" height="19" fill="#0040ff"/>
<rect x="803" y="803" width="19" height="19" fill="#0030ff"/>
<rect x="822" y="803" width="20" height="19" fill="#0040ff"/>
<rect x="842" y="803" width="105" height="19" fill="#0030ff"/>
<rect x="169" y="822" width="19" height="19" fill="#0030ff"/>
<rect x="188" y="822" width="19" height="19" fill="#0040ff"/>
<rect x="207" y="822" width="19" height="19" fill="#0030ff"/>
<rect x="226" y="822" width="39" height="19" fill="#0040ff"/>
<rect x="265" y="822" width="19" height="19" fill="#0030ff"/>
<rect x="284" y="822" width="19" height="19" fill="#0040ff"/>
<rect x="303" y="822" width="39" height="19" fill="#0030ff"/>
<rect x="342" y="822" width="19" height="19" fill="#0020ff"/>
<rect x="361" y="822" width="58" height="19" fill="#0040ff"/>
<rect x="419" y="822" width="57" height="19" fill="#0030ff"/>
<rect x="476" y="822" width="77" height="19" fill="#0010ff"/>
<rect x="553" y="822" width="19" height="19" fill="#0030ff"/>
<rect x="572" y="822" width="20" height="19" fill="#0010ff"/>
<rect x="592" y="822" width="19" height="19" fill="#0020ff"/>
<rect x="611" y="822" width="19" height="19" fill="#0050ff"/>
<rect x="630" y="822" width="19" height="19" fill="#0040ff"/>
<rect x="649" y="822" width="20" height="19" fill="#0010ff"/>
<rect x="669" y="822" width="19" height="19" fill="#0020ff"/>
<rect x="688" y="822" width="19" height="19" fill="#0040ff"/>
<rect x="707" y="822" width="240" height="19" fill="#0030ff"/>
<rect x="169" y="841" width="96" height="10" fill="#0030ff"/>
<rect x="265" y="841" width="38" height="10" fill="#0040ff"/>
<rect x="303" y="841" width="58" height="10" fill="#0030ff"/>
<rect x="361" y="841" width="19" height="10" fill="#0040ff"/>
<rect x="380" y="841" width="58" height="10" fill="#0020ff"/>
<rect x="438" y="841" width="19" height="10" fill="#0030ff"/>
<rect x="457" y="841" width="19" height="10" fill="#0040ff"/>
<rect x="476" y="841" width="19" height="10" fill="#0010ff"/>
<rect x="495" y="841" width="20" height="10" fill="#0040ff"/>
<rect x="515" y="841" width="19" height="10" fill="#0010ff"/>
<rect x="534" y="841" width="19" height="10" fill="#0030ff"/>
<rect x="553" y="841" width="39" height="10" fill="#0020ff"/>
<rect x="592" y="841" width="19" height="10" fill="#0030ff"/>
<rect x="611" y="841" width="19" height="10" fill="#0000ff"/>
<rect x="630" y="841" width="19" height="10" fill="#0030ff"/>
<rect x="649" y="841" width="20" height="10" fill="#0020ff"/>
<rect x="669" y="841" width="19" height="10" fill="#0030ff"/>
<rect x="688" y="841" width="19" height="10" fill="#0040ff"/>
<rect x="707" y="841" width="58" height="10" fill="#0030ff"/>
<rect x="765" y="841" width="19" height="10" fill="#0020ff"/>
<rect x="784" y="841" width="135" height="10" fill="#0030ff"/>
<rect x="919" y="841" width="19" height="10" fill="#0040ff"/>
<rect x="938" y="841" width="9" height="10" fill="#0030ff"/>
<rect x="969" y="73" width="26" height="11" fill="#800000"/>
<rect x="969" y="84" width="26" height="12" fill="#8f0000"/>
<rect x="969" y="96" width="26" height="13" fill="#9f0000"/>
<rect x="969" y="109" width="26" height="12" fill="#af0000"/>
<rect x="969" y="121" width="26" height="12" fill="#bf0000"/>
<rect x="969" y="133" width="26" height="12" fill="#cf0000"/>
<rect x="969" y="145" width="26" height="12" fill="#df0000"/>
<rect x="969" y="157" width="26" height="13" fill="#ef0000"/>
<rect x="969" y="170" width="26" height="12" fill="#ff0000"/>
<rect x="969" y="182" width="26" height="12" fill="#ff1000"/>
<rect x="969" y="194" width="26" height="12" fill="#ff2000"/>
<rect x="969" y="206" width="26" height="12" fill="#ff3000"/>
<rect x="969" y="218" width="26" height="12" fill="#ff4000"/>
<rect x="969" y="230" width="26" height="13" fill="#ff5000"/>
<rect x="969" y="243" width="26" height="12" fill="#ff6000"/>
<rect x="969" y="255" width="26" height="12" fill="#ff7000"/>
<rect x="969" y="267" width="26" height="12" fill="#ff8000"/>
<rect x="969" y="279" width="26" height="12" fill="#ff8f00"/>
<rect x="969" y="291" width="26" height="13" fill="#ff9f00"/>
<rect x="969" y="304" width="26" height="12" fill="#ffaf00"/>
<rect x="969" y="316" width="26" height="12" fill="#ffbf00"/>
<rect x="969" y="328" width="26" height="12" fill="#ffcf00"/>
<rect x="969" y="340" width="26" height="12" fill="#ffdf00"/>
<rect x="969" y="352" width="26" height="12" fill="#ffef00"/>
<rect x="969" y="364" width="26" height="13" fill="#ffff00"/>
<rect x="969" y="377" width="26" height="12" fill="#efff10"/>
<rect x="969" y="389" width="26" height="12" fill="#dfff20"/>
<rect x="969" y="401" width="26" height="12" fill="#cfff30"/>
<rect x="969" y="413" width="26" height="12" fill="#bfff40"/>
<rect x="969" y="425" width="26" height="13" fill="#afff50"/>
<rect x="969" y="438" width="26" height="12" fill="#9fff60"/>
<rect x="969" y="450" width="26" height="12" fill="#8fff70"/>
<rect x="969" y="462" width="26" height="12" fill="#80ff80"/>
<rect x="969" y="474" width="26" height="12" fill="#70ff8f"/>
<rect x="969" y="486" width="26" height="13" fill="#60ff9f"/>
<rect x="969" y="499" width="26" height="12" fill="#50ffaf"/>
<rect x="969" y="511" width="26" height="12" fill="#40ffbf"/>
<rect x="969" y="523" width="26" height="12" fill="#30ffcf"/>
<rect x="969" y="535" width="26" height="12" fill="#20ffdf"/>
<rect x="969" y="547" width="26" height="13" fill="#10ffef"/>
<rect x="969" y="560" width="26" height="12" fill="#00ffff"/>
<rect x="969" y="572" width="26" height="12" fill="#00efff"/>
<rect x="969" y="584" width="26" height="12" fill="#00dfff"/>
<rect x="969" y="596" width="26" height="12" fill="#00cfff"/>
<rect x="969" y="608" width="26" height="12" fill="#00bfff"/>
<rect x="969" y="620" width="26" height="13" fill="#00afff"/>
<rect x="969" y="633" width="26" height="12" fill="#009fff"/>
<rect x="969" y="645" width="26" height="12" fill="#008fff"/>
<rect x="969" y="657" width="26" height="12" fill="#0080ff"/>
<rect x="969" y="669" width="26" height="12" fill="#0070ff"/>
<rect x="969" y="681" width="26" height="13" fill="#0060ff"/>
<rect x="969" y="694" width="26" height="12" fill="#0050ff"/>
<rect x="969" y="706" width="26" height="12" fill="#0040ff"/>
<rect x="969" y="718" width="26" height="12" fill="#0030ff"/>
<rect x="969" y="730" width="26" height="12" fill="#0020ff"/>
<rect x="969" y="742" width="26" height="12" fill="#0010ff"/>
<rect x="969" y="754" width="26" height="13" fill="#0000ff"/>
<rect x="969" y="767" width="26" height="12" fill="#0000ef"/>
<rect x="969" y="779" width="26" height="12" fill="#0000df"/>
<rect x="969" y="791" width="26" height="12" fill="#0000cf"/>
<rect x="969" y="803" width="26" height="12" fill="#0000bf"/>
<rect x="969" y="815" width="26" height="13" fill="#0000af"/>
<rect x="969" y="828" width="26" height="12" fill="#00009f"/>
<rect x="969" y="840" width="26" height="12" fill="#00008f"/>
</g>
<g stroke="#000" stroke-width="1" fill="none" shape-rendering="crispEdges">
<rect x="168.5" y="72.5" width="779" height="779"/>
<rect x="968.5" y="72.5" width="27" height="780"/>
<path d="M299.5 851v-8M430.5 851v-8M562.5 851v-8M691.5 851v-8M819.5 851v-8M299.5 73v7M430.5 73v7M562.5 73v7M691.5 73v7M819.5 73v7"/>
<path d="M169 202.5h8M169 334.5h8M169 466.5h8M169 594.5h8M169 722.5h8M947 202.5h-8M947 334.5h-8M947 466.5h-8M947 594.5h-8M947 722.5h-8"/>
<path d="M969 720.5h7M969 571.5h7M969 422.5h7M969 274.5h7M969 125.5h7M995 720.5h-8M995 571.5h-8M995 422.5h-8M995 274.5h-8M995 125.5h-8"/>
</g>
<g font-size="33" text-anchor="end">
<text x="164" y="83">65</text>
<text x="164" y="213">60</text>
<text x="164" y="345">55</text>
<text x="164" y="477">50</text>
<text x="164" y="605">45</text>
<text x="164" y="733">40</text>
<text x="164" y="862">35</text>
</g>
<g font-size="33" text-anchor="middle">
<text x="167.8" y="883">35</text>
<text x="298.8" y="883">40</text>
<text x="429.8" y="883">45</text>
<text x="561.8" y="883">50</text>
<text x="690.8" y="883">55</text>
<text x="818.8" y="883">60</text>
<text x="946.8" y="883">65</text>
</g>
<g font-size="33" text-anchor="start">
<text x="997.4" y="136">800</text>
<text x="997.4" y="285">600</text>
<text x="997.4" y="433">400</text>
<text x="997.4" y="582">200</text>
<text x="997.4" y="731">0</text>
</g>
<text x="480" y="921.5" font-size="40.5">x<tspan font-size="32.5" dx="-2.5" dy="19.5">2</tspan><tspan dx="-3.5" dy="-19.5" font-size="40.5">(mrad)</tspan></text>
<g transform="translate(98.5,546) rotate(-90)">
<text x="-1" y="0" font-size="40.5">x<tspan font-size="32.5" dx="-2.5" dy="20">1</tspan><tspan dx="-3.5" dy="-20" font-size="40.5">(mrad)</tspan></text>
</g>
<g transform="translate(1108,548) rotate(-90)">
<text x="-2.5" y="0" font-size="40.5">R</text>
<text x="25.5" y="20.4" font-size="32.5">21</text>
<text x="25" y="-20" font-size="32.5">0ns</text>
<text x="78" y="0" font-size="40.5">-R</text>
<text x="122.5" y="20.4" font-size="32.5">21</text>
<text x="121" y="-20" font-size="32.5">12ns</text>
</g>
</svg>
</body></html>
